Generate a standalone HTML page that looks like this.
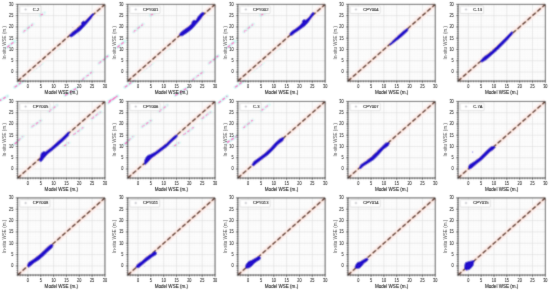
<!DOCTYPE html><html><head><meta charset="utf-8"><style>html,body{margin:0;padding:0;background:#fff;overflow:hidden}svg{display:block}#w{will-change:transform;width:550px;height:290px}text{font-family:"Liberation Sans",sans-serif;stroke:currentColor;stroke-width:0.08px}</style></head><body>
<div id="w"><svg width="550" height="290" viewBox="0 0 550 290">
<defs><filter id="bl" x="0" y="0" width="550" height="290" filterUnits="userSpaceOnUse"><feConvolveMatrix order="3" kernelMatrix="0.0289 0.1122 0.0289 0.1122 0.4356 0.1122 0.0289 0.1122 0.0289" edgeMode="duplicate" preserveAlpha="true"/></filter><filter id="blt" x="0" y="0" width="550" height="290" filterUnits="userSpaceOnUse"><feConvolveMatrix order="3" kernelMatrix="0.0064 0.0672 0.0064 0.0672 0.7056 0.0672 0.0064 0.0672 0.0064" edgeMode="duplicate"/></filter></defs><g filter="url(#bl)">
<rect width="550" height="290" fill="#fff"/>
<path d="M23.3 31.9L33.0 24.1M40.2 15.5L44.6 12.9M7.1 47.4L14.4 41.4M14.6 87.3L24.1 80.3M30.6 71.9L42.6 63.0M50.6 54.0L59.6 47.0M98.7 63.5L108.2 55.8M82.2 79.8L91.9 72.1M65.0 95.4L76.2 88.5M133.5 31.9L143.2 24.1M150.4 15.5L154.8 12.9M117.3 47.4L124.6 41.4M124.8 87.3L134.3 80.3M140.8 71.9L152.8 63.0M160.8 54.0L169.8 47.0M208.8 63.5L218.3 55.8M192.3 79.9L202.8 72.1M175.2 95.4L186.4 88.5M243.8 31.9L253.4 24.1M260.7 15.5L265.1 12.9M227.6 47.4L234.9 41.4M235.1 87.3L244.6 80.3M251.1 71.9L263.1 63.0M271.1 54.0L280.1 47.0M-1.4 101.2L7.6 96.1M49.0 111.5L57.1 105.1M31.6 127.0L41.1 120.4M14.6 144.1L23.0 136.5M63.8 146.0L69.0 142.6M73.2 134.8L83.3 127.4M91.6 118.8L100.7 111.9M108.2 102.9L117.2 96.1M108.8 101.2L117.8 96.1M159.2 111.5L167.3 105.1M141.8 127.0L151.3 120.4M124.8 144.1L133.2 136.5M174.0 146.0L179.2 142.6M183.3 134.8L193.6 127.4M201.8 118.8L210.8 111.9M218.4 102.9L227.3 96.1M261.4 110.7L269.1 104.6M243.3 127.9L252.8 120.1M226.9 142.6L236.4 136.5" stroke="#d6fdf8" stroke-width="3.4" stroke-linecap="round" fill="none"/><path d="M23.3 31.9L33.0 24.1M40.2 15.5L44.6 12.9M7.1 47.4L14.4 41.4M14.6 87.3L24.1 80.3M30.6 71.9L42.6 63.0M50.6 54.0L59.6 47.0M98.7 63.5L108.2 55.8M82.2 79.8L91.9 72.1M65.0 95.4L76.2 88.5M133.5 31.9L143.2 24.1M150.4 15.5L154.8 12.9M117.3 47.4L124.6 41.4M124.8 87.3L134.3 80.3M140.8 71.9L152.8 63.0M160.8 54.0L169.8 47.0M208.8 63.5L218.3 55.8M192.3 79.9L202.8 72.1M175.2 95.4L186.4 88.5M243.8 31.9L253.4 24.1M260.7 15.5L265.1 12.9M227.6 47.4L234.9 41.4M235.1 87.3L244.6 80.3M251.1 71.9L263.1 63.0M271.1 54.0L280.1 47.0M-1.4 101.2L7.6 96.1M49.0 111.5L57.1 105.1M31.6 127.0L41.1 120.4M14.6 144.1L23.0 136.5M63.8 146.0L69.0 142.6M73.2 134.8L83.3 127.4M91.6 118.8L100.7 111.9M108.2 102.9L117.2 96.1M108.8 101.2L117.8 96.1M159.2 111.5L167.3 105.1M141.8 127.0L151.3 120.4M124.8 144.1L133.2 136.5M174.0 146.0L179.2 142.6M183.3 134.8L193.6 127.4M201.8 118.8L210.8 111.9M218.4 102.9L227.3 96.1M261.4 110.7L269.1 104.6M243.3 127.9L252.8 120.1M226.9 142.6L236.4 136.5" stroke="#ff5cc0" stroke-width="1.3" stroke-dasharray="3.2 1.8" fill="none"/>
<path d="M20.22 4.36V81.06M17.65 78.8H104.95M22.79 4.36V81.06M17.65 76.55H104.95M25.35 4.36V81.06M17.65 74.29H104.95M30.49 4.36V81.06M17.65 69.78H104.95M33.06 4.36V81.06M17.65 67.52H104.95M35.62 4.36V81.06M17.65 65.27H104.95M38.19 4.36V81.06M17.65 63.01H104.95M43.33 4.36V81.06M17.65 58.5H104.95M45.89 4.36V81.06M17.65 56.25H104.95M48.46 4.36V81.06M17.65 53.99H104.95M51.03 4.36V81.06M17.65 51.73H104.95M56.16 4.36V81.06M17.65 47.22H104.95M58.73 4.36V81.06M17.65 44.97H104.95M61.3 4.36V81.06M17.65 42.71H104.95M63.87 4.36V81.06M17.65 40.45H104.95M69 4.36V81.06M17.65 35.94H104.95M71.57 4.36V81.06M17.65 33.69H104.95M74.14 4.36V81.06M17.65 31.43H104.95M76.71 4.36V81.06M17.65 29.17H104.95M81.84 4.36V81.06M17.65 24.66H104.95M84.41 4.36V81.06M17.65 22.41H104.95M86.98 4.36V81.06M17.65 20.15H104.95M89.54 4.36V81.06M17.65 17.9H104.95M94.68 4.36V81.06M17.65 13.38H104.95M97.25 4.36V81.06M17.65 11.13H104.95M99.81 4.36V81.06M17.65 8.87H104.95M102.38 4.36V81.06M17.65 6.62H104.95M130.32 4.36V81.06M127.75 78.8H215.05M132.89 4.36V81.06M127.75 76.55H215.05M135.45 4.36V81.06M127.75 74.29H215.05M140.59 4.36V81.06M127.75 69.78H215.05M143.16 4.36V81.06M127.75 67.52H215.05M145.72 4.36V81.06M127.75 65.27H215.05M148.29 4.36V81.06M127.75 63.01H215.05M153.43 4.36V81.06M127.75 58.5H215.05M155.99 4.36V81.06M127.75 56.25H215.05M158.56 4.36V81.06M127.75 53.99H215.05M161.13 4.36V81.06M127.75 51.73H215.05M166.26 4.36V81.06M127.75 47.22H215.05M168.83 4.36V81.06M127.75 44.97H215.05M171.4 4.36V81.06M127.75 42.71H215.05M173.97 4.36V81.06M127.75 40.45H215.05M179.1 4.36V81.06M127.75 35.94H215.05M181.67 4.36V81.06M127.75 33.69H215.05M184.24 4.36V81.06M127.75 31.43H215.05M186.81 4.36V81.06M127.75 29.17H215.05M191.94 4.36V81.06M127.75 24.66H215.05M194.51 4.36V81.06M127.75 22.41H215.05M197.08 4.36V81.06M127.75 20.15H215.05M199.64 4.36V81.06M127.75 17.9H215.05M204.78 4.36V81.06M127.75 13.38H215.05M207.35 4.36V81.06M127.75 11.13H215.05M209.91 4.36V81.06M127.75 8.87H215.05M212.48 4.36V81.06M127.75 6.62H215.05M240.42 4.36V81.06M237.85 78.8H325.15M242.99 4.36V81.06M237.85 76.55H325.15M245.55 4.36V81.06M237.85 74.29H325.15M250.69 4.36V81.06M237.85 69.78H325.15M253.26 4.36V81.06M237.85 67.52H325.15M255.82 4.36V81.06M237.85 65.27H325.15M258.39 4.36V81.06M237.85 63.01H325.15M263.53 4.36V81.06M237.85 58.5H325.15M266.09 4.36V81.06M237.85 56.25H325.15M268.66 4.36V81.06M237.85 53.99H325.15M271.23 4.36V81.06M237.85 51.73H325.15M276.36 4.36V81.06M237.85 47.22H325.15M278.93 4.36V81.06M237.85 44.97H325.15M281.5 4.36V81.06M237.85 42.71H325.15M284.07 4.36V81.06M237.85 40.45H325.15M289.2 4.36V81.06M237.85 35.94H325.15M291.77 4.36V81.06M237.85 33.69H325.15M294.34 4.36V81.06M237.85 31.43H325.15M296.91 4.36V81.06M237.85 29.17H325.15M302.04 4.36V81.06M237.85 24.66H325.15M304.61 4.36V81.06M237.85 22.41H325.15M307.18 4.36V81.06M237.85 20.15H325.15M309.74 4.36V81.06M237.85 17.9H325.15M314.88 4.36V81.06M237.85 13.38H325.15M317.45 4.36V81.06M237.85 11.13H325.15M320.01 4.36V81.06M237.85 8.87H325.15M322.58 4.36V81.06M237.85 6.62H325.15M350.52 4.36V81.06M347.95 78.8H435.25M353.09 4.36V81.06M347.95 76.55H435.25M355.65 4.36V81.06M347.95 74.29H435.25M360.79 4.36V81.06M347.95 69.78H435.25M363.36 4.36V81.06M347.95 67.52H435.25M365.92 4.36V81.06M347.95 65.27H435.25M368.49 4.36V81.06M347.95 63.01H435.25M373.63 4.36V81.06M347.95 58.5H435.25M376.19 4.36V81.06M347.95 56.25H435.25M378.76 4.36V81.06M347.95 53.99H435.25M381.33 4.36V81.06M347.95 51.73H435.25M386.46 4.36V81.06M347.95 47.22H435.25M389.03 4.36V81.06M347.95 44.97H435.25M391.6 4.36V81.06M347.95 42.71H435.25M394.17 4.36V81.06M347.95 40.45H435.25M399.3 4.36V81.06M347.95 35.94H435.25M401.87 4.36V81.06M347.95 33.69H435.25M404.44 4.36V81.06M347.95 31.43H435.25M407.01 4.36V81.06M347.95 29.17H435.25M412.14 4.36V81.06M347.95 24.66H435.25M414.71 4.36V81.06M347.95 22.41H435.25M417.28 4.36V81.06M347.95 20.15H435.25M419.84 4.36V81.06M347.95 17.9H435.25M424.98 4.36V81.06M347.95 13.38H435.25M427.55 4.36V81.06M347.95 11.13H435.25M430.11 4.36V81.06M347.95 8.87H435.25M432.68 4.36V81.06M347.95 6.62H435.25M460.62 4.36V81.06M458.05 78.8H545.35M463.19 4.36V81.06M458.05 76.55H545.35M465.75 4.36V81.06M458.05 74.29H545.35M470.89 4.36V81.06M458.05 69.78H545.35M473.46 4.36V81.06M458.05 67.52H545.35M476.02 4.36V81.06M458.05 65.27H545.35M478.59 4.36V81.06M458.05 63.01H545.35M483.73 4.36V81.06M458.05 58.5H545.35M486.29 4.36V81.06M458.05 56.25H545.35M488.86 4.36V81.06M458.05 53.99H545.35M491.43 4.36V81.06M458.05 51.73H545.35M496.56 4.36V81.06M458.05 47.22H545.35M499.13 4.36V81.06M458.05 44.97H545.35M501.7 4.36V81.06M458.05 42.71H545.35M504.27 4.36V81.06M458.05 40.45H545.35M509.4 4.36V81.06M458.05 35.94H545.35M511.97 4.36V81.06M458.05 33.69H545.35M514.54 4.36V81.06M458.05 31.43H545.35M517.11 4.36V81.06M458.05 29.17H545.35M522.24 4.36V81.06M458.05 24.66H545.35M524.81 4.36V81.06M458.05 22.41H545.35M527.38 4.36V81.06M458.05 20.15H545.35M529.94 4.36V81.06M458.05 17.9H545.35M535.08 4.36V81.06M458.05 13.38H545.35M537.65 4.36V81.06M458.05 11.13H545.35M540.21 4.36V81.06M458.05 8.87H545.35M542.78 4.36V81.06M458.05 6.62H545.35M20.22 101.45V178M17.65 175.75H104.95M22.79 101.45V178M17.65 173.5H104.95M25.35 101.45V178M17.65 171.25H104.95M30.49 101.45V178M17.65 166.74H104.95M33.06 101.45V178M17.65 164.49H104.95M35.62 101.45V178M17.65 162.24H104.95M38.19 101.45V178M17.65 159.99H104.95M43.33 101.45V178M17.65 155.49H104.95M45.89 101.45V178M17.65 153.23H104.95M48.46 101.45V178M17.65 150.98H104.95M51.03 101.45V178M17.65 148.73H104.95M56.16 101.45V178M17.65 144.23H104.95M58.73 101.45V178M17.65 141.98H104.95M61.3 101.45V178M17.65 139.72H104.95M63.87 101.45V178M17.65 137.47H104.95M69 101.45V178M17.65 132.97H104.95M71.57 101.45V178M17.65 130.72H104.95M74.14 101.45V178M17.65 128.47H104.95M76.71 101.45V178M17.65 126.22H104.95M81.84 101.45V178M17.65 121.71H104.95M84.41 101.45V178M17.65 119.46H104.95M86.98 101.45V178M17.65 117.21H104.95M89.54 101.45V178M17.65 114.96H104.95M94.68 101.45V178M17.65 110.46H104.95M97.25 101.45V178M17.65 108.2H104.95M99.81 101.45V178M17.65 105.95H104.95M102.38 101.45V178M17.65 103.7H104.95M130.32 101.45V178M127.75 175.75H215.05M132.89 101.45V178M127.75 173.5H215.05M135.45 101.45V178M127.75 171.25H215.05M140.59 101.45V178M127.75 166.74H215.05M143.16 101.45V178M127.75 164.49H215.05M145.72 101.45V178M127.75 162.24H215.05M148.29 101.45V178M127.75 159.99H215.05M153.43 101.45V178M127.75 155.49H215.05M155.99 101.45V178M127.75 153.23H215.05M158.56 101.45V178M127.75 150.98H215.05M161.13 101.45V178M127.75 148.73H215.05M166.26 101.45V178M127.75 144.23H215.05M168.83 101.45V178M127.75 141.98H215.05M171.4 101.45V178M127.75 139.72H215.05M173.97 101.45V178M127.75 137.47H215.05M179.1 101.45V178M127.75 132.97H215.05M181.67 101.45V178M127.75 130.72H215.05M184.24 101.45V178M127.75 128.47H215.05M186.81 101.45V178M127.75 126.22H215.05M191.94 101.45V178M127.75 121.71H215.05M194.51 101.45V178M127.75 119.46H215.05M197.08 101.45V178M127.75 117.21H215.05M199.64 101.45V178M127.75 114.96H215.05M204.78 101.45V178M127.75 110.46H215.05M207.35 101.45V178M127.75 108.2H215.05M209.91 101.45V178M127.75 105.95H215.05M212.48 101.45V178M127.75 103.7H215.05M240.42 101.45V178M237.85 175.75H325.15M242.99 101.45V178M237.85 173.5H325.15M245.55 101.45V178M237.85 171.25H325.15M250.69 101.45V178M237.85 166.74H325.15M253.26 101.45V178M237.85 164.49H325.15M255.82 101.45V178M237.85 162.24H325.15M258.39 101.45V178M237.85 159.99H325.15M263.53 101.45V178M237.85 155.49H325.15M266.09 101.45V178M237.85 153.23H325.15M268.66 101.45V178M237.85 150.98H325.15M271.23 101.45V178M237.85 148.73H325.15M276.36 101.45V178M237.85 144.23H325.15M278.93 101.45V178M237.85 141.98H325.15M281.5 101.45V178M237.85 139.72H325.15M284.07 101.45V178M237.85 137.47H325.15M289.2 101.45V178M237.85 132.97H325.15M291.77 101.45V178M237.85 130.72H325.15M294.34 101.45V178M237.85 128.47H325.15M296.91 101.45V178M237.85 126.22H325.15M302.04 101.45V178M237.85 121.71H325.15M304.61 101.45V178M237.85 119.46H325.15M307.18 101.45V178M237.85 117.21H325.15M309.74 101.45V178M237.85 114.96H325.15M314.88 101.45V178M237.85 110.46H325.15M317.45 101.45V178M237.85 108.2H325.15M320.01 101.45V178M237.85 105.95H325.15M322.58 101.45V178M237.85 103.7H325.15M350.52 101.45V178M347.95 175.75H435.25M353.09 101.45V178M347.95 173.5H435.25M355.65 101.45V178M347.95 171.25H435.25M360.79 101.45V178M347.95 166.74H435.25M363.36 101.45V178M347.95 164.49H435.25M365.92 101.45V178M347.95 162.24H435.25M368.49 101.45V178M347.95 159.99H435.25M373.63 101.45V178M347.95 155.49H435.25M376.19 101.45V178M347.95 153.23H435.25M378.76 101.45V178M347.95 150.98H435.25M381.33 101.45V178M347.95 148.73H435.25M386.46 101.45V178M347.95 144.23H435.25M389.03 101.45V178M347.95 141.98H435.25M391.6 101.45V178M347.95 139.72H435.25M394.17 101.45V178M347.95 137.47H435.25M399.3 101.45V178M347.95 132.97H435.25M401.87 101.45V178M347.95 130.72H435.25M404.44 101.45V178M347.95 128.47H435.25M407.01 101.45V178M347.95 126.22H435.25M412.14 101.45V178M347.95 121.71H435.25M414.71 101.45V178M347.95 119.46H435.25M417.28 101.45V178M347.95 117.21H435.25M419.84 101.45V178M347.95 114.96H435.25M424.98 101.45V178M347.95 110.46H435.25M427.55 101.45V178M347.95 108.2H435.25M430.11 101.45V178M347.95 105.95H435.25M432.68 101.45V178M347.95 103.7H435.25M460.62 101.45V178M458.05 175.75H545.35M463.19 101.45V178M458.05 173.5H545.35M465.75 101.45V178M458.05 171.25H545.35M470.89 101.45V178M458.05 166.74H545.35M473.46 101.45V178M458.05 164.49H545.35M476.02 101.45V178M458.05 162.24H545.35M478.59 101.45V178M458.05 159.99H545.35M483.73 101.45V178M458.05 155.49H545.35M486.29 101.45V178M458.05 153.23H545.35M488.86 101.45V178M458.05 150.98H545.35M491.43 101.45V178M458.05 148.73H545.35M496.56 101.45V178M458.05 144.23H545.35M499.13 101.45V178M458.05 141.98H545.35M501.7 101.45V178M458.05 139.72H545.35M504.27 101.45V178M458.05 137.47H545.35M509.4 101.45V178M458.05 132.97H545.35M511.97 101.45V178M458.05 130.72H545.35M514.54 101.45V178M458.05 128.47H545.35M517.11 101.45V178M458.05 126.22H545.35M522.24 101.45V178M458.05 121.71H545.35M524.81 101.45V178M458.05 119.46H545.35M527.38 101.45V178M458.05 117.21H545.35M529.94 101.45V178M458.05 114.96H545.35M535.08 101.45V178M458.05 110.46H545.35M537.65 101.45V178M458.05 108.2H545.35M540.21 101.45V178M458.05 105.95H545.35M542.78 101.45V178M458.05 103.7H545.35M20.22 197.9V275M17.65 272.73H104.95M22.79 197.9V275M17.65 270.46H104.95M25.35 197.9V275M17.65 268.2H104.95M30.49 197.9V275M17.65 263.66H104.95M33.06 197.9V275M17.65 261.39H104.95M35.62 197.9V275M17.65 259.13H104.95M38.19 197.9V275M17.65 256.86H104.95M43.33 197.9V275M17.65 252.32H104.95M45.89 197.9V275M17.65 250.06H104.95M48.46 197.9V275M17.65 247.79H104.95M51.03 197.9V275M17.65 245.52H104.95M56.16 197.9V275M17.65 240.99H104.95M58.73 197.9V275M17.65 238.72H104.95M61.3 197.9V275M17.65 236.45H104.95M63.87 197.9V275M17.65 234.18H104.95M69 197.9V275M17.65 229.65H104.95M71.57 197.9V275M17.65 227.38H104.95M74.14 197.9V275M17.65 225.11H104.95M76.71 197.9V275M17.65 222.84H104.95M81.84 197.9V275M17.65 218.31H104.95M84.41 197.9V275M17.65 216.04H104.95M86.98 197.9V275M17.65 213.77H104.95M89.54 197.9V275M17.65 211.51H104.95M94.68 197.9V275M17.65 206.97H104.95M97.25 197.9V275M17.65 204.7H104.95M99.81 197.9V275M17.65 202.44H104.95M102.38 197.9V275M17.65 200.17H104.95M130.32 197.9V275M127.75 272.73H215.05M132.89 197.9V275M127.75 270.46H215.05M135.45 197.9V275M127.75 268.2H215.05M140.59 197.9V275M127.75 263.66H215.05M143.16 197.9V275M127.75 261.39H215.05M145.72 197.9V275M127.75 259.13H215.05M148.29 197.9V275M127.75 256.86H215.05M153.43 197.9V275M127.75 252.32H215.05M155.99 197.9V275M127.75 250.06H215.05M158.56 197.9V275M127.75 247.79H215.05M161.13 197.9V275M127.75 245.52H215.05M166.26 197.9V275M127.75 240.99H215.05M168.83 197.9V275M127.75 238.72H215.05M171.4 197.9V275M127.75 236.45H215.05M173.97 197.9V275M127.75 234.18H215.05M179.1 197.9V275M127.75 229.65H215.05M181.67 197.9V275M127.75 227.38H215.05M184.24 197.9V275M127.75 225.11H215.05M186.81 197.9V275M127.75 222.84H215.05M191.94 197.9V275M127.75 218.31H215.05M194.51 197.9V275M127.75 216.04H215.05M197.08 197.9V275M127.75 213.77H215.05M199.64 197.9V275M127.75 211.51H215.05M204.78 197.9V275M127.75 206.97H215.05M207.35 197.9V275M127.75 204.7H215.05M209.91 197.9V275M127.75 202.44H215.05M212.48 197.9V275M127.75 200.17H215.05M240.42 197.9V275M237.85 272.73H325.15M242.99 197.9V275M237.85 270.46H325.15M245.55 197.9V275M237.85 268.2H325.15M250.69 197.9V275M237.85 263.66H325.15M253.26 197.9V275M237.85 261.39H325.15M255.82 197.9V275M237.85 259.13H325.15M258.39 197.9V275M237.85 256.86H325.15M263.53 197.9V275M237.85 252.32H325.15M266.09 197.9V275M237.85 250.06H325.15M268.66 197.9V275M237.85 247.79H325.15M271.23 197.9V275M237.85 245.52H325.15M276.36 197.9V275M237.85 240.99H325.15M278.93 197.9V275M237.85 238.72H325.15M281.5 197.9V275M237.85 236.45H325.15M284.07 197.9V275M237.85 234.18H325.15M289.2 197.9V275M237.85 229.65H325.15M291.77 197.9V275M237.85 227.38H325.15M294.34 197.9V275M237.85 225.11H325.15M296.91 197.9V275M237.85 222.84H325.15M302.04 197.9V275M237.85 218.31H325.15M304.61 197.9V275M237.85 216.04H325.15M307.18 197.9V275M237.85 213.77H325.15M309.74 197.9V275M237.85 211.51H325.15M314.88 197.9V275M237.85 206.97H325.15M317.45 197.9V275M237.85 204.7H325.15M320.01 197.9V275M237.85 202.44H325.15M322.58 197.9V275M237.85 200.17H325.15M350.52 197.9V275M347.95 272.73H435.25M353.09 197.9V275M347.95 270.46H435.25M355.65 197.9V275M347.95 268.2H435.25M360.79 197.9V275M347.95 263.66H435.25M363.36 197.9V275M347.95 261.39H435.25M365.92 197.9V275M347.95 259.13H435.25M368.49 197.9V275M347.95 256.86H435.25M373.63 197.9V275M347.95 252.32H435.25M376.19 197.9V275M347.95 250.06H435.25M378.76 197.9V275M347.95 247.79H435.25M381.33 197.9V275M347.95 245.52H435.25M386.46 197.9V275M347.95 240.99H435.25M389.03 197.9V275M347.95 238.72H435.25M391.6 197.9V275M347.95 236.45H435.25M394.17 197.9V275M347.95 234.18H435.25M399.3 197.9V275M347.95 229.65H435.25M401.87 197.9V275M347.95 227.38H435.25M404.44 197.9V275M347.95 225.11H435.25M407.01 197.9V275M347.95 222.84H435.25M412.14 197.9V275M347.95 218.31H435.25M414.71 197.9V275M347.95 216.04H435.25M417.28 197.9V275M347.95 213.77H435.25M419.84 197.9V275M347.95 211.51H435.25M424.98 197.9V275M347.95 206.97H435.25M427.55 197.9V275M347.95 204.7H435.25M430.11 197.9V275M347.95 202.44H435.25M432.68 197.9V275M347.95 200.17H435.25M460.62 197.9V275M458.05 272.73H545.35M463.19 197.9V275M458.05 270.46H545.35M465.75 197.9V275M458.05 268.2H545.35M470.89 197.9V275M458.05 263.66H545.35M473.46 197.9V275M458.05 261.39H545.35M476.02 197.9V275M458.05 259.13H545.35M478.59 197.9V275M458.05 256.86H545.35M483.73 197.9V275M458.05 252.32H545.35M486.29 197.9V275M458.05 250.06H545.35M488.86 197.9V275M458.05 247.79H545.35M491.43 197.9V275M458.05 245.52H545.35M496.56 197.9V275M458.05 240.99H545.35M499.13 197.9V275M458.05 238.72H545.35M501.7 197.9V275M458.05 236.45H545.35M504.27 197.9V275M458.05 234.18H545.35M509.4 197.9V275M458.05 229.65H545.35M511.97 197.9V275M458.05 227.38H545.35M514.54 197.9V275M458.05 225.11H545.35M517.11 197.9V275M458.05 222.84H545.35M522.24 197.9V275M458.05 218.31H545.35M524.81 197.9V275M458.05 216.04H545.35M527.38 197.9V275M458.05 213.77H545.35M529.94 197.9V275M458.05 211.51H545.35M535.08 197.9V275M458.05 206.97H545.35M537.65 197.9V275M458.05 204.7H545.35M540.21 197.9V275M458.05 202.44H545.35M542.78 197.9V275M458.05 200.17H545.35" stroke="#f5f5f5" stroke-width="0.5" fill="none"/>
<path d="M27.92 4.36V81.06M17.65 72.04H104.95M40.76 4.36V81.06M17.65 60.76H104.95M53.6 4.36V81.06M17.65 49.48H104.95M66.44 4.36V81.06M17.65 38.2H104.95M79.27 4.36V81.06M17.65 26.92H104.95M92.11 4.36V81.06M17.65 15.64H104.95M138.02 4.36V81.06M127.75 72.04H215.05M150.86 4.36V81.06M127.75 60.76H215.05M163.7 4.36V81.06M127.75 49.48H215.05M176.54 4.36V81.06M127.75 38.2H215.05M189.37 4.36V81.06M127.75 26.92H215.05M202.21 4.36V81.06M127.75 15.64H215.05M248.12 4.36V81.06M237.85 72.04H325.15M260.96 4.36V81.06M237.85 60.76H325.15M273.8 4.36V81.06M237.85 49.48H325.15M286.64 4.36V81.06M237.85 38.2H325.15M299.47 4.36V81.06M237.85 26.92H325.15M312.31 4.36V81.06M237.85 15.64H325.15M358.22 4.36V81.06M347.95 72.04H435.25M371.06 4.36V81.06M347.95 60.76H435.25M383.9 4.36V81.06M347.95 49.48H435.25M396.74 4.36V81.06M347.95 38.2H435.25M409.57 4.36V81.06M347.95 26.92H435.25M422.41 4.36V81.06M347.95 15.64H435.25M468.32 4.36V81.06M458.05 72.04H545.35M481.16 4.36V81.06M458.05 60.76H545.35M494 4.36V81.06M458.05 49.48H545.35M506.84 4.36V81.06M458.05 38.2H545.35M519.67 4.36V81.06M458.05 26.92H545.35M532.51 4.36V81.06M458.05 15.64H545.35M27.92 101.45V178M17.65 168.99H104.95M40.76 101.45V178M17.65 157.74H104.95M53.6 101.45V178M17.65 146.48H104.95M66.44 101.45V178M17.65 135.22H104.95M79.27 101.45V178M17.65 123.96H104.95M92.11 101.45V178M17.65 112.71H104.95M138.02 101.45V178M127.75 168.99H215.05M150.86 101.45V178M127.75 157.74H215.05M163.7 101.45V178M127.75 146.48H215.05M176.54 101.45V178M127.75 135.22H215.05M189.37 101.45V178M127.75 123.96H215.05M202.21 101.45V178M127.75 112.71H215.05M248.12 101.45V178M237.85 168.99H325.15M260.96 101.45V178M237.85 157.74H325.15M273.8 101.45V178M237.85 146.48H325.15M286.64 101.45V178M237.85 135.22H325.15M299.47 101.45V178M237.85 123.96H325.15M312.31 101.45V178M237.85 112.71H325.15M358.22 101.45V178M347.95 168.99H435.25M371.06 101.45V178M347.95 157.74H435.25M383.9 101.45V178M347.95 146.48H435.25M396.74 101.45V178M347.95 135.22H435.25M409.57 101.45V178M347.95 123.96H435.25M422.41 101.45V178M347.95 112.71H435.25M468.32 101.45V178M458.05 168.99H545.35M481.16 101.45V178M458.05 157.74H545.35M494 101.45V178M458.05 146.48H545.35M506.84 101.45V178M458.05 135.22H545.35M519.67 101.45V178M458.05 123.96H545.35M532.51 101.45V178M458.05 112.71H545.35M27.92 197.9V275M17.65 265.93H104.95M40.76 197.9V275M17.65 254.59H104.95M53.6 197.9V275M17.65 243.25H104.95M66.44 197.9V275M17.65 231.91H104.95M79.27 197.9V275M17.65 220.58H104.95M92.11 197.9V275M17.65 209.24H104.95M138.02 197.9V275M127.75 265.93H215.05M150.86 197.9V275M127.75 254.59H215.05M163.7 197.9V275M127.75 243.25H215.05M176.54 197.9V275M127.75 231.91H215.05M189.37 197.9V275M127.75 220.58H215.05M202.21 197.9V275M127.75 209.24H215.05M248.12 197.9V275M237.85 265.93H325.15M260.96 197.9V275M237.85 254.59H325.15M273.8 197.9V275M237.85 243.25H325.15M286.64 197.9V275M237.85 231.91H325.15M299.47 197.9V275M237.85 220.58H325.15M312.31 197.9V275M237.85 209.24H325.15M358.22 197.9V275M347.95 265.93H435.25M371.06 197.9V275M347.95 254.59H435.25M383.9 197.9V275M347.95 243.25H435.25M396.74 197.9V275M347.95 231.91H435.25M409.57 197.9V275M347.95 220.58H435.25M422.41 197.9V275M347.95 209.24H435.25M468.32 197.9V275M458.05 265.93H545.35M481.16 197.9V275M458.05 254.59H545.35M494 197.9V275M458.05 243.25H545.35M506.84 197.9V275M458.05 231.91H545.35M519.67 197.9V275M458.05 220.58H545.35M532.51 197.9V275M458.05 209.24H545.35" stroke="#d9d9d9" stroke-width="0.6" fill="none"/>
<path d="M17.65 81.06L104.95 4.36M127.75 81.06L215.05 4.36M237.85 81.06L325.15 4.36M347.95 81.06L435.25 4.36M458.05 81.06L545.35 4.36M17.65 178L104.95 101.45M127.75 178L215.05 101.45M237.85 178L325.15 101.45M347.95 178L435.25 101.45M458.05 178L545.35 101.45M17.65 275L104.95 197.9M127.75 275L215.05 197.9M237.85 275L325.15 197.9M347.95 275L435.25 197.9M458.05 275L545.35 197.9" stroke="#fdf0ee" stroke-width="6" fill="none"/>
<path d="M17.65 81.06L104.95 4.36M127.75 81.06L215.05 4.36M237.85 81.06L325.15 4.36M347.95 81.06L435.25 4.36M458.05 81.06L545.35 4.36M17.65 178L104.95 101.45M127.75 178L215.05 101.45M237.85 178L325.15 101.45M347.95 178L435.25 101.45M458.05 178L545.35 101.45M17.65 275L104.95 197.9M127.75 275L215.05 197.9M237.85 275L325.15 197.9M347.95 275L435.25 197.9M458.05 275L545.35 197.9" stroke="#eed2c4" stroke-width="1.4" fill="none"/>
<path d="M17.65 81.06L104.95 4.36M127.75 81.06L215.05 4.36M237.85 81.06L325.15 4.36M347.95 81.06L435.25 4.36M458.05 81.06L545.35 4.36M17.65 178L104.95 101.45M127.75 178L215.05 101.45M237.85 178L325.15 101.45M347.95 178L435.25 101.45M458.05 178L545.35 101.45M17.65 275L104.95 197.9M127.75 275L215.05 197.9M237.85 275L325.15 197.9M347.95 275L435.25 197.9M458.05 275L545.35 197.9" stroke="#643828" stroke-width="1.6" stroke-dasharray="4.4 2.2" fill="none"/>
<polygon points="69.60,35.30 71.30,33.00 75.70,29.80 79.50,26.80 81.30,24.50 81.60,22.30 83.20,21.00 84.80,21.40 87.70,18.70 90.60,15.30 92.10,13.80 93.30,13.60 93.60,14.80 90.80,19.00 87.90,22.40 85.40,25.30 83.00,27.90 80.50,30.60 76.80,33.20 73.80,35.60 71.60,36.90 70.20,36.80" fill="#2410cc" stroke="#2410cc" stroke-width="0.7" stroke-linejoin="round"/><circle cx="72.80" cy="27.40" r="0.45" fill="#2410cc" opacity="0.5"/><circle cx="78.10" cy="34.10" r="0.45" fill="#2410cc" opacity="0.5"/><polygon points="179.30,34.40 180.50,32.40 183.10,30.40 188.60,26.50 191.60,23.80 192.20,21.30 193.90,20.10 195.80,20.50 198.00,16.60 201.20,13.00 202.90,12.20 204.10,12.80 203.40,15.20 199.80,20.20 196.00,24.60 192.70,28.50 187.70,32.40 182.70,35.70 180.40,36.00" fill="#2410cc" stroke="#2410cc" stroke-width="0.7" stroke-linejoin="round"/><polygon points="289.80,33.60 291.30,31.60 295.70,28.70 300.00,25.30 302.20,22.50 302.40,20.60 303.90,19.60 305.80,20.00 308.70,17.60 311.10,14.30 312.50,12.40 314.10,12.70 313.60,15.30 310.70,18.80 307.80,23.00 304.90,26.00 302.00,28.10 298.60,30.50 294.80,33.00 291.80,35.40 290.20,35.40" fill="#2410cc" stroke="#2410cc" stroke-width="0.7" stroke-linejoin="round"/><polygon points="389.30,44.50 392.10,41.50 396.60,37.00 399.70,34.20 403.30,31.10 406.40,28.80 407.90,28.40 408.00,30.70 405.10,33.50 401.50,36.80 397.50,39.90 393.40,43.00 390.60,45.20" fill="#2410cc" stroke="#2410cc" stroke-width="0.7" stroke-linejoin="round"/><polygon points="480.50,60.50 483.90,56.70 489.10,53.40 494.30,48.80 499.60,43.60 504.80,38.40 509.40,33.80 511.30,31.80 512.80,32.10 512.20,34.50 507.50,39.90 502.30,45.20 497.00,50.50 491.80,55.00 486.60,59.60 482.50,62.00 480.90,62.00" fill="#2410cc" stroke="#2410cc" stroke-width="0.7" stroke-linejoin="round"/><polygon points="39.50,161.00 40.20,157.70 40.90,154.30 41.60,152.80 43.70,151.40 45.20,152.00 50.60,148.00 56.10,143.10 61.60,138.30 66.40,133.50 67.80,132.10 69.30,132.00 68.60,135.70 63.80,140.60 58.20,145.40 53.40,149.60 47.90,153.80 43.80,158.50 41.70,161.30 40.20,161.60" fill="#2410cc" stroke="#2410cc" stroke-width="0.7" stroke-linejoin="round"/><polygon points="144.10,163.80 144.80,159.70 146.20,156.90 147.60,155.40 150.30,154.50 155.20,152.00 160.70,147.80 166.20,143.70 171.70,138.20 175.20,135.40 176.60,134.70 177.60,135.40 176.70,137.70 171.80,141.80 167.00,146.70 161.50,150.80 156.00,154.90 151.10,158.40 147.70,162.50 145.50,164.60" fill="#2410cc" stroke="#2410cc" stroke-width="0.7" stroke-linejoin="round"/><polygon points="251.80,165.00 253.60,161.60 258.40,158.10 264.00,154.00 270.20,148.50 275.00,142.90 279.80,138.80 282.60,137.40 284.10,138.20 282.70,141.10 277.90,144.50 273.70,149.40 268.90,154.20 263.40,158.30 257.80,162.50 253.70,165.90" fill="#2410cc" stroke="#2410cc" stroke-width="0.7" stroke-linejoin="round"/><polygon points="359.20,168.00 360.60,164.70 366.50,160.80 372.30,156.20 376.90,151.60 381.50,147.00 385.50,143.10 388.10,142.50 389.50,143.20 388.20,145.90 383.60,149.20 379.00,154.40 373.80,159.70 368.50,163.00 363.30,166.20 360.60,168.90" fill="#2410cc" stroke="#2410cc" stroke-width="0.7" stroke-linejoin="round"/><polygon points="468.20,167.10 469.50,164.60 474.40,161.50 479.40,157.80 483.70,153.40 487.50,149.70 491.20,146.60 493.70,146.30 495.40,147.30 493.80,149.30 490.10,151.80 486.30,155.50 482.00,159.80 477.00,163.60 472.00,167.90 469.50,169.20" fill="#2410cc" stroke="#2410cc" stroke-width="0.7" stroke-linejoin="round"/><circle cx="472.60" cy="152.00" r="0.6" fill="#2410cc" opacity="0.7"/><polygon points="27.30,265.40 28.40,262.50 33.10,259.60 38.40,255.50 43.10,251.40 47.20,247.30 50.10,244.90 51.90,244.30 53.20,245.60 52.00,248.10 47.90,251.60 43.80,255.70 39.10,259.80 34.40,262.70 30.30,266.20 28.40,267.40" fill="#2410cc" stroke="#2410cc" stroke-width="0.7" stroke-linejoin="round"/><polygon points="135.90,266.60 137.30,264.20 141.70,261.30 146.00,257.40 150.30,254.50 153.70,252.10 155.20,251.40 156.60,252.60 156.20,254.70 152.90,256.60 149.00,259.50 145.10,262.40 141.30,265.80 138.80,267.70 136.80,267.70" fill="#2410cc" stroke="#2410cc" stroke-width="0.7" stroke-linejoin="round"/><circle cx="144.50" cy="266.60" r="0.45" fill="#2410cc" opacity="0.4"/><polygon points="245.40,266.40 246.20,264.00 248.30,261.50 251.60,260.30 255.30,258.20 258.20,256.50 259.90,256.50 260.80,257.90 260.00,259.60 257.10,261.30 254.20,263.40 251.70,266.30 249.10,267.90 246.60,268.30 245.50,267.50" fill="#2410cc" stroke="#2410cc" stroke-width="0.7" stroke-linejoin="round"/><polygon points="354.90,267.00 355.70,264.80 357.20,262.50 359.90,261.80 362.50,260.20 365.20,258.70 367.10,258.00 368.30,259.20 367.20,261.20 364.10,263.10 362.20,265.70 360.00,268.00 357.20,268.60 355.30,268.00" fill="#2410cc" stroke="#2410cc" stroke-width="0.7" stroke-linejoin="round"/><polygon points="465.50,262.50 470.00,261.20 474.30,260.50 473.00,266.00 470.00,269.30 466.00,270.30 464.50,268.00 464.80,264.50" fill="#2410cc" stroke="#2410cc" stroke-width="0.7" stroke-linejoin="round"/>
<path d="M17.65 4.36H104.95V81.06H17.65ZM127.75 4.36H215.05V81.06H127.75ZM237.85 4.36H325.15V81.06H237.85ZM347.95 4.36H435.25V81.06H347.95ZM458.05 4.36H545.35V81.06H458.05ZM17.65 101.45H104.95V178H17.65ZM127.75 101.45H215.05V178H127.75ZM237.85 101.45H325.15V178H237.85ZM347.95 101.45H435.25V178H347.95ZM458.05 101.45H545.35V178H458.05ZM17.65 197.9H104.95V275H17.65ZM127.75 197.9H215.05V275H127.75ZM237.85 197.9H325.15V275H237.85ZM347.95 197.9H435.25V275H347.95ZM458.05 197.9H545.35V275H458.05Z" stroke="#3a3a3a" stroke-width="0.9" fill="none"/>
<path d="M17.65 80.61v1.7M18.1 81.06h-1.7M20.22 80.61v1.7M18.1 78.8h-1.7M22.79 80.61v1.7M18.1 76.55h-1.7M25.35 80.61v1.7M18.1 74.29h-1.7M30.49 80.61v1.7M18.1 69.78h-1.7M33.06 80.61v1.7M18.1 67.52h-1.7M35.62 80.61v1.7M18.1 65.27h-1.7M38.19 80.61v1.7M18.1 63.01h-1.7M43.33 80.61v1.7M18.1 58.5h-1.7M45.89 80.61v1.7M18.1 56.25h-1.7M48.46 80.61v1.7M18.1 53.99h-1.7M51.03 80.61v1.7M18.1 51.73h-1.7M56.16 80.61v1.7M18.1 47.22h-1.7M58.73 80.61v1.7M18.1 44.97h-1.7M61.3 80.61v1.7M18.1 42.71h-1.7M63.87 80.61v1.7M18.1 40.45h-1.7M69 80.61v1.7M18.1 35.94h-1.7M71.57 80.61v1.7M18.1 33.69h-1.7M74.14 80.61v1.7M18.1 31.43h-1.7M76.71 80.61v1.7M18.1 29.17h-1.7M81.84 80.61v1.7M18.1 24.66h-1.7M84.41 80.61v1.7M18.1 22.41h-1.7M86.98 80.61v1.7M18.1 20.15h-1.7M89.54 80.61v1.7M18.1 17.9h-1.7M94.68 80.61v1.7M18.1 13.38h-1.7M97.25 80.61v1.7M18.1 11.13h-1.7M99.81 80.61v1.7M18.1 8.87h-1.7M102.38 80.61v1.7M18.1 6.62h-1.7M127.75 80.61v1.7M128.2 81.06h-1.7M130.32 80.61v1.7M128.2 78.8h-1.7M132.89 80.61v1.7M128.2 76.55h-1.7M135.45 80.61v1.7M128.2 74.29h-1.7M140.59 80.61v1.7M128.2 69.78h-1.7M143.16 80.61v1.7M128.2 67.52h-1.7M145.72 80.61v1.7M128.2 65.27h-1.7M148.29 80.61v1.7M128.2 63.01h-1.7M153.43 80.61v1.7M128.2 58.5h-1.7M155.99 80.61v1.7M128.2 56.25h-1.7M158.56 80.61v1.7M128.2 53.99h-1.7M161.13 80.61v1.7M128.2 51.73h-1.7M166.26 80.61v1.7M128.2 47.22h-1.7M168.83 80.61v1.7M128.2 44.97h-1.7M171.4 80.61v1.7M128.2 42.71h-1.7M173.97 80.61v1.7M128.2 40.45h-1.7M179.1 80.61v1.7M128.2 35.94h-1.7M181.67 80.61v1.7M128.2 33.69h-1.7M184.24 80.61v1.7M128.2 31.43h-1.7M186.81 80.61v1.7M128.2 29.17h-1.7M191.94 80.61v1.7M128.2 24.66h-1.7M194.51 80.61v1.7M128.2 22.41h-1.7M197.08 80.61v1.7M128.2 20.15h-1.7M199.64 80.61v1.7M128.2 17.9h-1.7M204.78 80.61v1.7M128.2 13.38h-1.7M207.35 80.61v1.7M128.2 11.13h-1.7M209.91 80.61v1.7M128.2 8.87h-1.7M212.48 80.61v1.7M128.2 6.62h-1.7M237.85 80.61v1.7M238.3 81.06h-1.7M240.42 80.61v1.7M238.3 78.8h-1.7M242.99 80.61v1.7M238.3 76.55h-1.7M245.55 80.61v1.7M238.3 74.29h-1.7M250.69 80.61v1.7M238.3 69.78h-1.7M253.26 80.61v1.7M238.3 67.52h-1.7M255.82 80.61v1.7M238.3 65.27h-1.7M258.39 80.61v1.7M238.3 63.01h-1.7M263.53 80.61v1.7M238.3 58.5h-1.7M266.09 80.61v1.7M238.3 56.25h-1.7M268.66 80.61v1.7M238.3 53.99h-1.7M271.23 80.61v1.7M238.3 51.73h-1.7M276.36 80.61v1.7M238.3 47.22h-1.7M278.93 80.61v1.7M238.3 44.97h-1.7M281.5 80.61v1.7M238.3 42.71h-1.7M284.07 80.61v1.7M238.3 40.45h-1.7M289.2 80.61v1.7M238.3 35.94h-1.7M291.77 80.61v1.7M238.3 33.69h-1.7M294.34 80.61v1.7M238.3 31.43h-1.7M296.91 80.61v1.7M238.3 29.17h-1.7M302.04 80.61v1.7M238.3 24.66h-1.7M304.61 80.61v1.7M238.3 22.41h-1.7M307.18 80.61v1.7M238.3 20.15h-1.7M309.74 80.61v1.7M238.3 17.9h-1.7M314.88 80.61v1.7M238.3 13.38h-1.7M317.45 80.61v1.7M238.3 11.13h-1.7M320.01 80.61v1.7M238.3 8.87h-1.7M322.58 80.61v1.7M238.3 6.62h-1.7M347.95 80.61v1.7M348.4 81.06h-1.7M350.52 80.61v1.7M348.4 78.8h-1.7M353.09 80.61v1.7M348.4 76.55h-1.7M355.65 80.61v1.7M348.4 74.29h-1.7M360.79 80.61v1.7M348.4 69.78h-1.7M363.36 80.61v1.7M348.4 67.52h-1.7M365.92 80.61v1.7M348.4 65.27h-1.7M368.49 80.61v1.7M348.4 63.01h-1.7M373.63 80.61v1.7M348.4 58.5h-1.7M376.19 80.61v1.7M348.4 56.25h-1.7M378.76 80.61v1.7M348.4 53.99h-1.7M381.33 80.61v1.7M348.4 51.73h-1.7M386.46 80.61v1.7M348.4 47.22h-1.7M389.03 80.61v1.7M348.4 44.97h-1.7M391.6 80.61v1.7M348.4 42.71h-1.7M394.17 80.61v1.7M348.4 40.45h-1.7M399.3 80.61v1.7M348.4 35.94h-1.7M401.87 80.61v1.7M348.4 33.69h-1.7M404.44 80.61v1.7M348.4 31.43h-1.7M407.01 80.61v1.7M348.4 29.17h-1.7M412.14 80.61v1.7M348.4 24.66h-1.7M414.71 80.61v1.7M348.4 22.41h-1.7M417.28 80.61v1.7M348.4 20.15h-1.7M419.84 80.61v1.7M348.4 17.9h-1.7M424.98 80.61v1.7M348.4 13.38h-1.7M427.55 80.61v1.7M348.4 11.13h-1.7M430.11 80.61v1.7M348.4 8.87h-1.7M432.68 80.61v1.7M348.4 6.62h-1.7M458.05 80.61v1.7M458.5 81.06h-1.7M460.62 80.61v1.7M458.5 78.8h-1.7M463.19 80.61v1.7M458.5 76.55h-1.7M465.75 80.61v1.7M458.5 74.29h-1.7M470.89 80.61v1.7M458.5 69.78h-1.7M473.46 80.61v1.7M458.5 67.52h-1.7M476.02 80.61v1.7M458.5 65.27h-1.7M478.59 80.61v1.7M458.5 63.01h-1.7M483.73 80.61v1.7M458.5 58.5h-1.7M486.29 80.61v1.7M458.5 56.25h-1.7M488.86 80.61v1.7M458.5 53.99h-1.7M491.43 80.61v1.7M458.5 51.73h-1.7M496.56 80.61v1.7M458.5 47.22h-1.7M499.13 80.61v1.7M458.5 44.97h-1.7M501.7 80.61v1.7M458.5 42.71h-1.7M504.27 80.61v1.7M458.5 40.45h-1.7M509.4 80.61v1.7M458.5 35.94h-1.7M511.97 80.61v1.7M458.5 33.69h-1.7M514.54 80.61v1.7M458.5 31.43h-1.7M517.11 80.61v1.7M458.5 29.17h-1.7M522.24 80.61v1.7M458.5 24.66h-1.7M524.81 80.61v1.7M458.5 22.41h-1.7M527.38 80.61v1.7M458.5 20.15h-1.7M529.94 80.61v1.7M458.5 17.9h-1.7M535.08 80.61v1.7M458.5 13.38h-1.7M537.65 80.61v1.7M458.5 11.13h-1.7M540.21 80.61v1.7M458.5 8.87h-1.7M542.78 80.61v1.7M458.5 6.62h-1.7M17.65 177.55v1.7M18.1 178h-1.7M20.22 177.55v1.7M18.1 175.75h-1.7M22.79 177.55v1.7M18.1 173.5h-1.7M25.35 177.55v1.7M18.1 171.25h-1.7M30.49 177.55v1.7M18.1 166.74h-1.7M33.06 177.55v1.7M18.1 164.49h-1.7M35.62 177.55v1.7M18.1 162.24h-1.7M38.19 177.55v1.7M18.1 159.99h-1.7M43.33 177.55v1.7M18.1 155.49h-1.7M45.89 177.55v1.7M18.1 153.23h-1.7M48.46 177.55v1.7M18.1 150.98h-1.7M51.03 177.55v1.7M18.1 148.73h-1.7M56.16 177.55v1.7M18.1 144.23h-1.7M58.73 177.55v1.7M18.1 141.98h-1.7M61.3 177.55v1.7M18.1 139.72h-1.7M63.87 177.55v1.7M18.1 137.47h-1.7M69 177.55v1.7M18.1 132.97h-1.7M71.57 177.55v1.7M18.1 130.72h-1.7M74.14 177.55v1.7M18.1 128.47h-1.7M76.71 177.55v1.7M18.1 126.22h-1.7M81.84 177.55v1.7M18.1 121.71h-1.7M84.41 177.55v1.7M18.1 119.46h-1.7M86.98 177.55v1.7M18.1 117.21h-1.7M89.54 177.55v1.7M18.1 114.96h-1.7M94.68 177.55v1.7M18.1 110.46h-1.7M97.25 177.55v1.7M18.1 108.2h-1.7M99.81 177.55v1.7M18.1 105.95h-1.7M102.38 177.55v1.7M18.1 103.7h-1.7M127.75 177.55v1.7M128.2 178h-1.7M130.32 177.55v1.7M128.2 175.75h-1.7M132.89 177.55v1.7M128.2 173.5h-1.7M135.45 177.55v1.7M128.2 171.25h-1.7M140.59 177.55v1.7M128.2 166.74h-1.7M143.16 177.55v1.7M128.2 164.49h-1.7M145.72 177.55v1.7M128.2 162.24h-1.7M148.29 177.55v1.7M128.2 159.99h-1.7M153.43 177.55v1.7M128.2 155.49h-1.7M155.99 177.55v1.7M128.2 153.23h-1.7M158.56 177.55v1.7M128.2 150.98h-1.7M161.13 177.55v1.7M128.2 148.73h-1.7M166.26 177.55v1.7M128.2 144.23h-1.7M168.83 177.55v1.7M128.2 141.98h-1.7M171.4 177.55v1.7M128.2 139.72h-1.7M173.97 177.55v1.7M128.2 137.47h-1.7M179.1 177.55v1.7M128.2 132.97h-1.7M181.67 177.55v1.7M128.2 130.72h-1.7M184.24 177.55v1.7M128.2 128.47h-1.7M186.81 177.55v1.7M128.2 126.22h-1.7M191.94 177.55v1.7M128.2 121.71h-1.7M194.51 177.55v1.7M128.2 119.46h-1.7M197.08 177.55v1.7M128.2 117.21h-1.7M199.64 177.55v1.7M128.2 114.96h-1.7M204.78 177.55v1.7M128.2 110.46h-1.7M207.35 177.55v1.7M128.2 108.2h-1.7M209.91 177.55v1.7M128.2 105.95h-1.7M212.48 177.55v1.7M128.2 103.7h-1.7M237.85 177.55v1.7M238.3 178h-1.7M240.42 177.55v1.7M238.3 175.75h-1.7M242.99 177.55v1.7M238.3 173.5h-1.7M245.55 177.55v1.7M238.3 171.25h-1.7M250.69 177.55v1.7M238.3 166.74h-1.7M253.26 177.55v1.7M238.3 164.49h-1.7M255.82 177.55v1.7M238.3 162.24h-1.7M258.39 177.55v1.7M238.3 159.99h-1.7M263.53 177.55v1.7M238.3 155.49h-1.7M266.09 177.55v1.7M238.3 153.23h-1.7M268.66 177.55v1.7M238.3 150.98h-1.7M271.23 177.55v1.7M238.3 148.73h-1.7M276.36 177.55v1.7M238.3 144.23h-1.7M278.93 177.55v1.7M238.3 141.98h-1.7M281.5 177.55v1.7M238.3 139.72h-1.7M284.07 177.55v1.7M238.3 137.47h-1.7M289.2 177.55v1.7M238.3 132.97h-1.7M291.77 177.55v1.7M238.3 130.72h-1.7M294.34 177.55v1.7M238.3 128.47h-1.7M296.91 177.55v1.7M238.3 126.22h-1.7M302.04 177.55v1.7M238.3 121.71h-1.7M304.61 177.55v1.7M238.3 119.46h-1.7M307.18 177.55v1.7M238.3 117.21h-1.7M309.74 177.55v1.7M238.3 114.96h-1.7M314.88 177.55v1.7M238.3 110.46h-1.7M317.45 177.55v1.7M238.3 108.2h-1.7M320.01 177.55v1.7M238.3 105.95h-1.7M322.58 177.55v1.7M238.3 103.7h-1.7M347.95 177.55v1.7M348.4 178h-1.7M350.52 177.55v1.7M348.4 175.75h-1.7M353.09 177.55v1.7M348.4 173.5h-1.7M355.65 177.55v1.7M348.4 171.25h-1.7M360.79 177.55v1.7M348.4 166.74h-1.7M363.36 177.55v1.7M348.4 164.49h-1.7M365.92 177.55v1.7M348.4 162.24h-1.7M368.49 177.55v1.7M348.4 159.99h-1.7M373.63 177.55v1.7M348.4 155.49h-1.7M376.19 177.55v1.7M348.4 153.23h-1.7M378.76 177.55v1.7M348.4 150.98h-1.7M381.33 177.55v1.7M348.4 148.73h-1.7M386.46 177.55v1.7M348.4 144.23h-1.7M389.03 177.55v1.7M348.4 141.98h-1.7M391.6 177.55v1.7M348.4 139.72h-1.7M394.17 177.55v1.7M348.4 137.47h-1.7M399.3 177.55v1.7M348.4 132.97h-1.7M401.87 177.55v1.7M348.4 130.72h-1.7M404.44 177.55v1.7M348.4 128.47h-1.7M407.01 177.55v1.7M348.4 126.22h-1.7M412.14 177.55v1.7M348.4 121.71h-1.7M414.71 177.55v1.7M348.4 119.46h-1.7M417.28 177.55v1.7M348.4 117.21h-1.7M419.84 177.55v1.7M348.4 114.96h-1.7M424.98 177.55v1.7M348.4 110.46h-1.7M427.55 177.55v1.7M348.4 108.2h-1.7M430.11 177.55v1.7M348.4 105.95h-1.7M432.68 177.55v1.7M348.4 103.7h-1.7M458.05 177.55v1.7M458.5 178h-1.7M460.62 177.55v1.7M458.5 175.75h-1.7M463.19 177.55v1.7M458.5 173.5h-1.7M465.75 177.55v1.7M458.5 171.25h-1.7M470.89 177.55v1.7M458.5 166.74h-1.7M473.46 177.55v1.7M458.5 164.49h-1.7M476.02 177.55v1.7M458.5 162.24h-1.7M478.59 177.55v1.7M458.5 159.99h-1.7M483.73 177.55v1.7M458.5 155.49h-1.7M486.29 177.55v1.7M458.5 153.23h-1.7M488.86 177.55v1.7M458.5 150.98h-1.7M491.43 177.55v1.7M458.5 148.73h-1.7M496.56 177.55v1.7M458.5 144.23h-1.7M499.13 177.55v1.7M458.5 141.98h-1.7M501.7 177.55v1.7M458.5 139.72h-1.7M504.27 177.55v1.7M458.5 137.47h-1.7M509.4 177.55v1.7M458.5 132.97h-1.7M511.97 177.55v1.7M458.5 130.72h-1.7M514.54 177.55v1.7M458.5 128.47h-1.7M517.11 177.55v1.7M458.5 126.22h-1.7M522.24 177.55v1.7M458.5 121.71h-1.7M524.81 177.55v1.7M458.5 119.46h-1.7M527.38 177.55v1.7M458.5 117.21h-1.7M529.94 177.55v1.7M458.5 114.96h-1.7M535.08 177.55v1.7M458.5 110.46h-1.7M537.65 177.55v1.7M458.5 108.2h-1.7M540.21 177.55v1.7M458.5 105.95h-1.7M542.78 177.55v1.7M458.5 103.7h-1.7M17.65 274.55v1.7M18.1 275h-1.7M20.22 274.55v1.7M18.1 272.73h-1.7M22.79 274.55v1.7M18.1 270.46h-1.7M25.35 274.55v1.7M18.1 268.2h-1.7M30.49 274.55v1.7M18.1 263.66h-1.7M33.06 274.55v1.7M18.1 261.39h-1.7M35.62 274.55v1.7M18.1 259.13h-1.7M38.19 274.55v1.7M18.1 256.86h-1.7M43.33 274.55v1.7M18.1 252.32h-1.7M45.89 274.55v1.7M18.1 250.06h-1.7M48.46 274.55v1.7M18.1 247.79h-1.7M51.03 274.55v1.7M18.1 245.52h-1.7M56.16 274.55v1.7M18.1 240.99h-1.7M58.73 274.55v1.7M18.1 238.72h-1.7M61.3 274.55v1.7M18.1 236.45h-1.7M63.87 274.55v1.7M18.1 234.18h-1.7M69 274.55v1.7M18.1 229.65h-1.7M71.57 274.55v1.7M18.1 227.38h-1.7M74.14 274.55v1.7M18.1 225.11h-1.7M76.71 274.55v1.7M18.1 222.84h-1.7M81.84 274.55v1.7M18.1 218.31h-1.7M84.41 274.55v1.7M18.1 216.04h-1.7M86.98 274.55v1.7M18.1 213.77h-1.7M89.54 274.55v1.7M18.1 211.51h-1.7M94.68 274.55v1.7M18.1 206.97h-1.7M97.25 274.55v1.7M18.1 204.7h-1.7M99.81 274.55v1.7M18.1 202.44h-1.7M102.38 274.55v1.7M18.1 200.17h-1.7M127.75 274.55v1.7M128.2 275h-1.7M130.32 274.55v1.7M128.2 272.73h-1.7M132.89 274.55v1.7M128.2 270.46h-1.7M135.45 274.55v1.7M128.2 268.2h-1.7M140.59 274.55v1.7M128.2 263.66h-1.7M143.16 274.55v1.7M128.2 261.39h-1.7M145.72 274.55v1.7M128.2 259.13h-1.7M148.29 274.55v1.7M128.2 256.86h-1.7M153.43 274.55v1.7M128.2 252.32h-1.7M155.99 274.55v1.7M128.2 250.06h-1.7M158.56 274.55v1.7M128.2 247.79h-1.7M161.13 274.55v1.7M128.2 245.52h-1.7M166.26 274.55v1.7M128.2 240.99h-1.7M168.83 274.55v1.7M128.2 238.72h-1.7M171.4 274.55v1.7M128.2 236.45h-1.7M173.97 274.55v1.7M128.2 234.18h-1.7M179.1 274.55v1.7M128.2 229.65h-1.7M181.67 274.55v1.7M128.2 227.38h-1.7M184.24 274.55v1.7M128.2 225.11h-1.7M186.81 274.55v1.7M128.2 222.84h-1.7M191.94 274.55v1.7M128.2 218.31h-1.7M194.51 274.55v1.7M128.2 216.04h-1.7M197.08 274.55v1.7M128.2 213.77h-1.7M199.64 274.55v1.7M128.2 211.51h-1.7M204.78 274.55v1.7M128.2 206.97h-1.7M207.35 274.55v1.7M128.2 204.7h-1.7M209.91 274.55v1.7M128.2 202.44h-1.7M212.48 274.55v1.7M128.2 200.17h-1.7M237.85 274.55v1.7M238.3 275h-1.7M240.42 274.55v1.7M238.3 272.73h-1.7M242.99 274.55v1.7M238.3 270.46h-1.7M245.55 274.55v1.7M238.3 268.2h-1.7M250.69 274.55v1.7M238.3 263.66h-1.7M253.26 274.55v1.7M238.3 261.39h-1.7M255.82 274.55v1.7M238.3 259.13h-1.7M258.39 274.55v1.7M238.3 256.86h-1.7M263.53 274.55v1.7M238.3 252.32h-1.7M266.09 274.55v1.7M238.3 250.06h-1.7M268.66 274.55v1.7M238.3 247.79h-1.7M271.23 274.55v1.7M238.3 245.52h-1.7M276.36 274.55v1.7M238.3 240.99h-1.7M278.93 274.55v1.7M238.3 238.72h-1.7M281.5 274.55v1.7M238.3 236.45h-1.7M284.07 274.55v1.7M238.3 234.18h-1.7M289.2 274.55v1.7M238.3 229.65h-1.7M291.77 274.55v1.7M238.3 227.38h-1.7M294.34 274.55v1.7M238.3 225.11h-1.7M296.91 274.55v1.7M238.3 222.84h-1.7M302.04 274.55v1.7M238.3 218.31h-1.7M304.61 274.55v1.7M238.3 216.04h-1.7M307.18 274.55v1.7M238.3 213.77h-1.7M309.74 274.55v1.7M238.3 211.51h-1.7M314.88 274.55v1.7M238.3 206.97h-1.7M317.45 274.55v1.7M238.3 204.7h-1.7M320.01 274.55v1.7M238.3 202.44h-1.7M322.58 274.55v1.7M238.3 200.17h-1.7M347.95 274.55v1.7M348.4 275h-1.7M350.52 274.55v1.7M348.4 272.73h-1.7M353.09 274.55v1.7M348.4 270.46h-1.7M355.65 274.55v1.7M348.4 268.2h-1.7M360.79 274.55v1.7M348.4 263.66h-1.7M363.36 274.55v1.7M348.4 261.39h-1.7M365.92 274.55v1.7M348.4 259.13h-1.7M368.49 274.55v1.7M348.4 256.86h-1.7M373.63 274.55v1.7M348.4 252.32h-1.7M376.19 274.55v1.7M348.4 250.06h-1.7M378.76 274.55v1.7M348.4 247.79h-1.7M381.33 274.55v1.7M348.4 245.52h-1.7M386.46 274.55v1.7M348.4 240.99h-1.7M389.03 274.55v1.7M348.4 238.72h-1.7M391.6 274.55v1.7M348.4 236.45h-1.7M394.17 274.55v1.7M348.4 234.18h-1.7M399.3 274.55v1.7M348.4 229.65h-1.7M401.87 274.55v1.7M348.4 227.38h-1.7M404.44 274.55v1.7M348.4 225.11h-1.7M407.01 274.55v1.7M348.4 222.84h-1.7M412.14 274.55v1.7M348.4 218.31h-1.7M414.71 274.55v1.7M348.4 216.04h-1.7M417.28 274.55v1.7M348.4 213.77h-1.7M419.84 274.55v1.7M348.4 211.51h-1.7M424.98 274.55v1.7M348.4 206.97h-1.7M427.55 274.55v1.7M348.4 204.7h-1.7M430.11 274.55v1.7M348.4 202.44h-1.7M432.68 274.55v1.7M348.4 200.17h-1.7M458.05 274.55v1.7M458.5 275h-1.7M460.62 274.55v1.7M458.5 272.73h-1.7M463.19 274.55v1.7M458.5 270.46h-1.7M465.75 274.55v1.7M458.5 268.2h-1.7M470.89 274.55v1.7M458.5 263.66h-1.7M473.46 274.55v1.7M458.5 261.39h-1.7M476.02 274.55v1.7M458.5 259.13h-1.7M478.59 274.55v1.7M458.5 256.86h-1.7M483.73 274.55v1.7M458.5 252.32h-1.7M486.29 274.55v1.7M458.5 250.06h-1.7M488.86 274.55v1.7M458.5 247.79h-1.7M491.43 274.55v1.7M458.5 245.52h-1.7M496.56 274.55v1.7M458.5 240.99h-1.7M499.13 274.55v1.7M458.5 238.72h-1.7M501.7 274.55v1.7M458.5 236.45h-1.7M504.27 274.55v1.7M458.5 234.18h-1.7M509.4 274.55v1.7M458.5 229.65h-1.7M511.97 274.55v1.7M458.5 227.38h-1.7M514.54 274.55v1.7M458.5 225.11h-1.7M517.11 274.55v1.7M458.5 222.84h-1.7M522.24 274.55v1.7M458.5 218.31h-1.7M524.81 274.55v1.7M458.5 216.04h-1.7M527.38 274.55v1.7M458.5 213.77h-1.7M529.94 274.55v1.7M458.5 211.51h-1.7M535.08 274.55v1.7M458.5 206.97h-1.7M537.65 274.55v1.7M458.5 204.7h-1.7M540.21 274.55v1.7M458.5 202.44h-1.7M542.78 274.55v1.7M458.5 200.17h-1.7" stroke="#333" stroke-width="0.65" fill="none"/>
<path d="M27.92 80.61v2.35M18.1 72.04h-2.35M40.76 80.61v2.35M18.1 60.76h-2.35M53.6 80.61v2.35M18.1 49.48h-2.35M66.44 80.61v2.35M18.1 38.2h-2.35M79.27 80.61v2.35M18.1 26.92h-2.35M92.11 80.61v2.35M18.1 15.64h-2.35M104.95 80.61v2.35M18.1 4.36h-2.35M138.02 80.61v2.35M128.2 72.04h-2.35M150.86 80.61v2.35M128.2 60.76h-2.35M163.7 80.61v2.35M128.2 49.48h-2.35M176.54 80.61v2.35M128.2 38.2h-2.35M189.37 80.61v2.35M128.2 26.92h-2.35M202.21 80.61v2.35M128.2 15.64h-2.35M215.05 80.61v2.35M128.2 4.36h-2.35M248.12 80.61v2.35M238.3 72.04h-2.35M260.96 80.61v2.35M238.3 60.76h-2.35M273.8 80.61v2.35M238.3 49.48h-2.35M286.64 80.61v2.35M238.3 38.2h-2.35M299.47 80.61v2.35M238.3 26.92h-2.35M312.31 80.61v2.35M238.3 15.64h-2.35M325.15 80.61v2.35M238.3 4.36h-2.35M358.22 80.61v2.35M348.4 72.04h-2.35M371.06 80.61v2.35M348.4 60.76h-2.35M383.9 80.61v2.35M348.4 49.48h-2.35M396.74 80.61v2.35M348.4 38.2h-2.35M409.57 80.61v2.35M348.4 26.92h-2.35M422.41 80.61v2.35M348.4 15.64h-2.35M435.25 80.61v2.35M348.4 4.36h-2.35M468.32 80.61v2.35M458.5 72.04h-2.35M481.16 80.61v2.35M458.5 60.76h-2.35M494 80.61v2.35M458.5 49.48h-2.35M506.84 80.61v2.35M458.5 38.2h-2.35M519.67 80.61v2.35M458.5 26.92h-2.35M532.51 80.61v2.35M458.5 15.64h-2.35M545.35 80.61v2.35M458.5 4.36h-2.35M27.92 177.55v2.35M18.1 168.99h-2.35M40.76 177.55v2.35M18.1 157.74h-2.35M53.6 177.55v2.35M18.1 146.48h-2.35M66.44 177.55v2.35M18.1 135.22h-2.35M79.27 177.55v2.35M18.1 123.96h-2.35M92.11 177.55v2.35M18.1 112.71h-2.35M104.95 177.55v2.35M18.1 101.45h-2.35M138.02 177.55v2.35M128.2 168.99h-2.35M150.86 177.55v2.35M128.2 157.74h-2.35M163.7 177.55v2.35M128.2 146.48h-2.35M176.54 177.55v2.35M128.2 135.22h-2.35M189.37 177.55v2.35M128.2 123.96h-2.35M202.21 177.55v2.35M128.2 112.71h-2.35M215.05 177.55v2.35M128.2 101.45h-2.35M248.12 177.55v2.35M238.3 168.99h-2.35M260.96 177.55v2.35M238.3 157.74h-2.35M273.8 177.55v2.35M238.3 146.48h-2.35M286.64 177.55v2.35M238.3 135.22h-2.35M299.47 177.55v2.35M238.3 123.96h-2.35M312.31 177.55v2.35M238.3 112.71h-2.35M325.15 177.55v2.35M238.3 101.45h-2.35M358.22 177.55v2.35M348.4 168.99h-2.35M371.06 177.55v2.35M348.4 157.74h-2.35M383.9 177.55v2.35M348.4 146.48h-2.35M396.74 177.55v2.35M348.4 135.22h-2.35M409.57 177.55v2.35M348.4 123.96h-2.35M422.41 177.55v2.35M348.4 112.71h-2.35M435.25 177.55v2.35M348.4 101.45h-2.35M468.32 177.55v2.35M458.5 168.99h-2.35M481.16 177.55v2.35M458.5 157.74h-2.35M494 177.55v2.35M458.5 146.48h-2.35M506.84 177.55v2.35M458.5 135.22h-2.35M519.67 177.55v2.35M458.5 123.96h-2.35M532.51 177.55v2.35M458.5 112.71h-2.35M545.35 177.55v2.35M458.5 101.45h-2.35M27.92 274.55v2.35M18.1 265.93h-2.35M40.76 274.55v2.35M18.1 254.59h-2.35M53.6 274.55v2.35M18.1 243.25h-2.35M66.44 274.55v2.35M18.1 231.91h-2.35M79.27 274.55v2.35M18.1 220.58h-2.35M92.11 274.55v2.35M18.1 209.24h-2.35M104.95 274.55v2.35M18.1 197.9h-2.35M138.02 274.55v2.35M128.2 265.93h-2.35M150.86 274.55v2.35M128.2 254.59h-2.35M163.7 274.55v2.35M128.2 243.25h-2.35M176.54 274.55v2.35M128.2 231.91h-2.35M189.37 274.55v2.35M128.2 220.58h-2.35M202.21 274.55v2.35M128.2 209.24h-2.35M215.05 274.55v2.35M128.2 197.9h-2.35M248.12 274.55v2.35M238.3 265.93h-2.35M260.96 274.55v2.35M238.3 254.59h-2.35M273.8 274.55v2.35M238.3 243.25h-2.35M286.64 274.55v2.35M238.3 231.91h-2.35M299.47 274.55v2.35M238.3 220.58h-2.35M312.31 274.55v2.35M238.3 209.24h-2.35M325.15 274.55v2.35M238.3 197.9h-2.35M358.22 274.55v2.35M348.4 265.93h-2.35M371.06 274.55v2.35M348.4 254.59h-2.35M383.9 274.55v2.35M348.4 243.25h-2.35M396.74 274.55v2.35M348.4 231.91h-2.35M409.57 274.55v2.35M348.4 220.58h-2.35M422.41 274.55v2.35M348.4 209.24h-2.35M435.25 274.55v2.35M348.4 197.9h-2.35M468.32 274.55v2.35M458.5 265.93h-2.35M481.16 274.55v2.35M458.5 254.59h-2.35M494 274.55v2.35M458.5 243.25h-2.35M506.84 274.55v2.35M458.5 231.91h-2.35M519.67 274.55v2.35M458.5 220.58h-2.35M532.51 274.55v2.35M458.5 209.24h-2.35M545.35 274.55v2.35M458.5 197.9h-2.35" stroke="#1a1a1a" stroke-width="0.75" fill="none"/>
<rect x="19.75" y="6.06" width="21.16" height="7.5" rx="0.7" fill="#fff" fill-opacity="0.85" stroke="#c4c4c4" stroke-width="0.5"/><rect x="129.85" y="6.06" width="30.16" height="7.5" rx="0.7" fill="#fff" fill-opacity="0.85" stroke="#c4c4c4" stroke-width="0.5"/><rect x="239.95" y="6.06" width="30.16" height="7.5" rx="0.7" fill="#fff" fill-opacity="0.85" stroke="#c4c4c4" stroke-width="0.5"/><rect x="350.05" y="6.06" width="30.16" height="7.5" rx="0.7" fill="#fff" fill-opacity="0.85" stroke="#c4c4c4" stroke-width="0.5"/><rect x="460.15" y="6.06" width="23.47" height="7.5" rx="0.7" fill="#fff" fill-opacity="0.85" stroke="#c4c4c4" stroke-width="0.5"/><rect x="19.75" y="103.15" width="30.16" height="7.5" rx="0.7" fill="#fff" fill-opacity="0.85" stroke="#c4c4c4" stroke-width="0.5"/><rect x="129.85" y="103.15" width="30.16" height="7.5" rx="0.7" fill="#fff" fill-opacity="0.85" stroke="#c4c4c4" stroke-width="0.5"/><rect x="239.95" y="103.15" width="21.16" height="7.5" rx="0.7" fill="#fff" fill-opacity="0.85" stroke="#c4c4c4" stroke-width="0.5"/><rect x="350.05" y="103.15" width="30.16" height="7.5" rx="0.7" fill="#fff" fill-opacity="0.85" stroke="#c4c4c4" stroke-width="0.5"/><rect x="460.15" y="103.15" width="23.93" height="7.5" rx="0.7" fill="#fff" fill-opacity="0.85" stroke="#c4c4c4" stroke-width="0.5"/><rect x="19.75" y="199.6" width="30.16" height="7.5" rx="0.7" fill="#fff" fill-opacity="0.85" stroke="#c4c4c4" stroke-width="0.5"/><rect x="129.85" y="199.6" width="29.85" height="7.5" rx="0.7" fill="#fff" fill-opacity="0.85" stroke="#c4c4c4" stroke-width="0.5"/><rect x="239.95" y="199.6" width="30.16" height="7.5" rx="0.7" fill="#fff" fill-opacity="0.85" stroke="#c4c4c4" stroke-width="0.5"/><rect x="350.05" y="199.6" width="30.16" height="7.5" rx="0.7" fill="#fff" fill-opacity="0.85" stroke="#c4c4c4" stroke-width="0.5"/><rect x="460.15" y="199.6" width="30.16" height="7.5" rx="0.7" fill="#fff" fill-opacity="0.85" stroke="#c4c4c4" stroke-width="0.5"/>
<path d="M24.45 9.46h2.4M25.65 8.26v2.4M134.55 9.46h2.4M135.75 8.26v2.4M244.65 9.46h2.4M245.85 8.26v2.4M354.75 9.46h2.4M355.95 8.26v2.4M464.85 9.46h2.4M466.05 8.26v2.4M24.45 106.55h2.4M25.65 105.35v2.4M134.55 106.55h2.4M135.75 105.35v2.4M244.65 106.55h2.4M245.85 105.35v2.4M354.75 106.55h2.4M355.95 105.35v2.4M464.85 106.55h2.4M466.05 105.35v2.4M24.45 203h2.4M25.65 201.8v2.4M134.55 203h2.4M135.75 201.8v2.4M244.65 203h2.4M245.85 201.8v2.4M354.75 203h2.4M355.95 201.8v2.4M464.85 203h2.4M466.05 201.8v2.4" stroke="#b0b0b8" stroke-width="0.6" fill="none"/>
</g>
<g font-size="4.6" fill="#2e2e2e" color="#2e2e2e" filter="url(#blt)">
<text transform="translate(27.92,88.01) scale(0.84,1)" text-anchor="middle">0</text>
<text transform="translate(13.35,73.44) scale(0.84,1)" text-anchor="end">0</text>
<text transform="translate(40.76,88.01) scale(0.84,1)" text-anchor="middle">5</text>
<text transform="translate(13.35,62.16) scale(0.84,1)" text-anchor="end">5</text>
<text transform="translate(53.6,88.01) scale(0.84,1)" text-anchor="middle">10</text>
<text transform="translate(13.35,50.88) scale(0.84,1)" text-anchor="end">10</text>
<text transform="translate(66.44,88.01) scale(0.84,1)" text-anchor="middle">15</text>
<text transform="translate(13.35,39.6) scale(0.84,1)" text-anchor="end">15</text>
<text transform="translate(79.27,88.01) scale(0.84,1)" text-anchor="middle">20</text>
<text transform="translate(13.35,28.32) scale(0.84,1)" text-anchor="end">20</text>
<text transform="translate(92.11,88.01) scale(0.84,1)" text-anchor="middle">25</text>
<text transform="translate(13.35,17.04) scale(0.84,1)" text-anchor="end">25</text>
<text transform="translate(104.95,88.01) scale(0.84,1)" text-anchor="middle">30</text>
<text transform="translate(13.35,5.76) scale(0.84,1)" text-anchor="end">30</text>
<text x="61.3" y="93.81" font-size="4.55" text-anchor="middle" fill="#262626" color="#262626" style="stroke-width:0.1px">Model WSE (m.)</text>
<text transform="translate(6.35,42.71) rotate(-90)" font-size="4.55" text-anchor="middle" fill="#5a5a5a" style="stroke:none">In-situ WSE (m.)</text>
<text x="32.85" y="10.81" font-size="4.15" fill="#1a1a1a" color="#1a1a1a" style="stroke-width:0.1px">C.2</text>
<text transform="translate(138.02,88.01) scale(0.84,1)" text-anchor="middle">0</text>
<text transform="translate(123.45,73.44) scale(0.84,1)" text-anchor="end">0</text>
<text transform="translate(150.86,88.01) scale(0.84,1)" text-anchor="middle">5</text>
<text transform="translate(123.45,62.16) scale(0.84,1)" text-anchor="end">5</text>
<text transform="translate(163.7,88.01) scale(0.84,1)" text-anchor="middle">10</text>
<text transform="translate(123.45,50.88) scale(0.84,1)" text-anchor="end">10</text>
<text transform="translate(176.54,88.01) scale(0.84,1)" text-anchor="middle">15</text>
<text transform="translate(123.45,39.6) scale(0.84,1)" text-anchor="end">15</text>
<text transform="translate(189.37,88.01) scale(0.84,1)" text-anchor="middle">20</text>
<text transform="translate(123.45,28.32) scale(0.84,1)" text-anchor="end">20</text>
<text transform="translate(202.21,88.01) scale(0.84,1)" text-anchor="middle">25</text>
<text transform="translate(123.45,17.04) scale(0.84,1)" text-anchor="end">25</text>
<text transform="translate(215.05,88.01) scale(0.84,1)" text-anchor="middle">30</text>
<text transform="translate(123.45,5.76) scale(0.84,1)" text-anchor="end">30</text>
<text x="171.4" y="93.81" font-size="4.55" text-anchor="middle" fill="#262626" color="#262626" style="stroke-width:0.1px">Model WSE (m.)</text>
<text transform="translate(116.45,42.71) rotate(-90)" font-size="4.55" text-anchor="middle" fill="#5a5a5a" style="stroke:none">In-situ WSE (m.)</text>
<text x="142.95" y="10.81" font-size="4.15" fill="#1a1a1a" color="#1a1a1a" style="stroke-width:0.1px">CPY001</text>
<text transform="translate(248.12,88.01) scale(0.84,1)" text-anchor="middle">0</text>
<text transform="translate(233.55,73.44) scale(0.84,1)" text-anchor="end">0</text>
<text transform="translate(260.96,88.01) scale(0.84,1)" text-anchor="middle">5</text>
<text transform="translate(233.55,62.16) scale(0.84,1)" text-anchor="end">5</text>
<text transform="translate(273.8,88.01) scale(0.84,1)" text-anchor="middle">10</text>
<text transform="translate(233.55,50.88) scale(0.84,1)" text-anchor="end">10</text>
<text transform="translate(286.64,88.01) scale(0.84,1)" text-anchor="middle">15</text>
<text transform="translate(233.55,39.6) scale(0.84,1)" text-anchor="end">15</text>
<text transform="translate(299.47,88.01) scale(0.84,1)" text-anchor="middle">20</text>
<text transform="translate(233.55,28.32) scale(0.84,1)" text-anchor="end">20</text>
<text transform="translate(312.31,88.01) scale(0.84,1)" text-anchor="middle">25</text>
<text transform="translate(233.55,17.04) scale(0.84,1)" text-anchor="end">25</text>
<text transform="translate(325.15,88.01) scale(0.84,1)" text-anchor="middle">30</text>
<text transform="translate(233.55,5.76) scale(0.84,1)" text-anchor="end">30</text>
<text x="281.5" y="93.81" font-size="4.55" text-anchor="middle" fill="#262626" color="#262626" style="stroke-width:0.1px">Model WSE (m.)</text>
<text transform="translate(226.55,42.71) rotate(-90)" font-size="4.55" text-anchor="middle" fill="#5a5a5a" style="stroke:none">In-situ WSE (m.)</text>
<text x="253.05" y="10.81" font-size="4.15" fill="#1a1a1a" color="#1a1a1a" style="stroke-width:0.1px">CPY002</text>
<text transform="translate(358.22,88.01) scale(0.84,1)" text-anchor="middle">0</text>
<text transform="translate(343.65,73.44) scale(0.84,1)" text-anchor="end">0</text>
<text transform="translate(371.06,88.01) scale(0.84,1)" text-anchor="middle">5</text>
<text transform="translate(343.65,62.16) scale(0.84,1)" text-anchor="end">5</text>
<text transform="translate(383.9,88.01) scale(0.84,1)" text-anchor="middle">10</text>
<text transform="translate(343.65,50.88) scale(0.84,1)" text-anchor="end">10</text>
<text transform="translate(396.74,88.01) scale(0.84,1)" text-anchor="middle">15</text>
<text transform="translate(343.65,39.6) scale(0.84,1)" text-anchor="end">15</text>
<text transform="translate(409.57,88.01) scale(0.84,1)" text-anchor="middle">20</text>
<text transform="translate(343.65,28.32) scale(0.84,1)" text-anchor="end">20</text>
<text transform="translate(422.41,88.01) scale(0.84,1)" text-anchor="middle">25</text>
<text transform="translate(343.65,17.04) scale(0.84,1)" text-anchor="end">25</text>
<text transform="translate(435.25,88.01) scale(0.84,1)" text-anchor="middle">30</text>
<text transform="translate(343.65,5.76) scale(0.84,1)" text-anchor="end">30</text>
<text x="391.6" y="93.81" font-size="4.55" text-anchor="middle" fill="#262626" color="#262626" style="stroke-width:0.1px">Model WSE (m.)</text>
<text transform="translate(336.65,42.71) rotate(-90)" font-size="4.55" text-anchor="middle" fill="#5a5a5a" style="stroke:none">In-situ WSE (m.)</text>
<text x="363.15" y="10.81" font-size="4.15" fill="#1a1a1a" color="#1a1a1a" style="stroke-width:0.1px">CPY004</text>
<text transform="translate(468.32,88.01) scale(0.84,1)" text-anchor="middle">0</text>
<text transform="translate(453.75,73.44) scale(0.84,1)" text-anchor="end">0</text>
<text transform="translate(481.16,88.01) scale(0.84,1)" text-anchor="middle">5</text>
<text transform="translate(453.75,62.16) scale(0.84,1)" text-anchor="end">5</text>
<text transform="translate(494,88.01) scale(0.84,1)" text-anchor="middle">10</text>
<text transform="translate(453.75,50.88) scale(0.84,1)" text-anchor="end">10</text>
<text transform="translate(506.84,88.01) scale(0.84,1)" text-anchor="middle">15</text>
<text transform="translate(453.75,39.6) scale(0.84,1)" text-anchor="end">15</text>
<text transform="translate(519.67,88.01) scale(0.84,1)" text-anchor="middle">20</text>
<text transform="translate(453.75,28.32) scale(0.84,1)" text-anchor="end">20</text>
<text transform="translate(532.51,88.01) scale(0.84,1)" text-anchor="middle">25</text>
<text transform="translate(453.75,17.04) scale(0.84,1)" text-anchor="end">25</text>
<text transform="translate(545.35,88.01) scale(0.84,1)" text-anchor="middle">30</text>
<text transform="translate(453.75,5.76) scale(0.84,1)" text-anchor="end">30</text>
<text x="501.7" y="93.81" font-size="4.55" text-anchor="middle" fill="#262626" color="#262626" style="stroke-width:0.1px">Model WSE (m.)</text>
<text transform="translate(446.75,42.71) rotate(-90)" font-size="4.55" text-anchor="middle" fill="#5a5a5a" style="stroke:none">In-situ WSE (m.)</text>
<text x="473.25" y="10.81" font-size="4.15" fill="#1a1a1a" color="#1a1a1a" style="stroke-width:0.1px">C.13</text>
<text transform="translate(27.92,184.95) scale(0.84,1)" text-anchor="middle">0</text>
<text transform="translate(13.35,170.39) scale(0.84,1)" text-anchor="end">0</text>
<text transform="translate(40.76,184.95) scale(0.84,1)" text-anchor="middle">5</text>
<text transform="translate(13.35,159.14) scale(0.84,1)" text-anchor="end">5</text>
<text transform="translate(53.6,184.95) scale(0.84,1)" text-anchor="middle">10</text>
<text transform="translate(13.35,147.88) scale(0.84,1)" text-anchor="end">10</text>
<text transform="translate(66.44,184.95) scale(0.84,1)" text-anchor="middle">15</text>
<text transform="translate(13.35,136.62) scale(0.84,1)" text-anchor="end">15</text>
<text transform="translate(79.27,184.95) scale(0.84,1)" text-anchor="middle">20</text>
<text transform="translate(13.35,125.36) scale(0.84,1)" text-anchor="end">20</text>
<text transform="translate(92.11,184.95) scale(0.84,1)" text-anchor="middle">25</text>
<text transform="translate(13.35,114.11) scale(0.84,1)" text-anchor="end">25</text>
<text transform="translate(104.95,184.95) scale(0.84,1)" text-anchor="middle">30</text>
<text transform="translate(13.35,102.85) scale(0.84,1)" text-anchor="end">30</text>
<text x="61.3" y="190.75" font-size="4.55" text-anchor="middle" fill="#262626" color="#262626" style="stroke-width:0.1px">Model WSE (m.)</text>
<text transform="translate(6.35,139.72) rotate(-90)" font-size="4.55" text-anchor="middle" fill="#5a5a5a" style="stroke:none">In-situ WSE (m.)</text>
<text x="32.85" y="107.9" font-size="4.15" fill="#1a1a1a" color="#1a1a1a" style="stroke-width:0.1px">CPY005</text>
<text transform="translate(138.02,184.95) scale(0.84,1)" text-anchor="middle">0</text>
<text transform="translate(123.45,170.39) scale(0.84,1)" text-anchor="end">0</text>
<text transform="translate(150.86,184.95) scale(0.84,1)" text-anchor="middle">5</text>
<text transform="translate(123.45,159.14) scale(0.84,1)" text-anchor="end">5</text>
<text transform="translate(163.7,184.95) scale(0.84,1)" text-anchor="middle">10</text>
<text transform="translate(123.45,147.88) scale(0.84,1)" text-anchor="end">10</text>
<text transform="translate(176.54,184.95) scale(0.84,1)" text-anchor="middle">15</text>
<text transform="translate(123.45,136.62) scale(0.84,1)" text-anchor="end">15</text>
<text transform="translate(189.37,184.95) scale(0.84,1)" text-anchor="middle">20</text>
<text transform="translate(123.45,125.36) scale(0.84,1)" text-anchor="end">20</text>
<text transform="translate(202.21,184.95) scale(0.84,1)" text-anchor="middle">25</text>
<text transform="translate(123.45,114.11) scale(0.84,1)" text-anchor="end">25</text>
<text transform="translate(215.05,184.95) scale(0.84,1)" text-anchor="middle">30</text>
<text transform="translate(123.45,102.85) scale(0.84,1)" text-anchor="end">30</text>
<text x="171.4" y="190.75" font-size="4.55" text-anchor="middle" fill="#262626" color="#262626" style="stroke-width:0.1px">Model WSE (m.)</text>
<text transform="translate(116.45,139.72) rotate(-90)" font-size="4.55" text-anchor="middle" fill="#5a5a5a" style="stroke:none">In-situ WSE (m.)</text>
<text x="142.95" y="107.9" font-size="4.15" fill="#1a1a1a" color="#1a1a1a" style="stroke-width:0.1px">CPY006</text>
<text transform="translate(248.12,184.95) scale(0.84,1)" text-anchor="middle">0</text>
<text transform="translate(233.55,170.39) scale(0.84,1)" text-anchor="end">0</text>
<text transform="translate(260.96,184.95) scale(0.84,1)" text-anchor="middle">5</text>
<text transform="translate(233.55,159.14) scale(0.84,1)" text-anchor="end">5</text>
<text transform="translate(273.8,184.95) scale(0.84,1)" text-anchor="middle">10</text>
<text transform="translate(233.55,147.88) scale(0.84,1)" text-anchor="end">10</text>
<text transform="translate(286.64,184.95) scale(0.84,1)" text-anchor="middle">15</text>
<text transform="translate(233.55,136.62) scale(0.84,1)" text-anchor="end">15</text>
<text transform="translate(299.47,184.95) scale(0.84,1)" text-anchor="middle">20</text>
<text transform="translate(233.55,125.36) scale(0.84,1)" text-anchor="end">20</text>
<text transform="translate(312.31,184.95) scale(0.84,1)" text-anchor="middle">25</text>
<text transform="translate(233.55,114.11) scale(0.84,1)" text-anchor="end">25</text>
<text transform="translate(325.15,184.95) scale(0.84,1)" text-anchor="middle">30</text>
<text transform="translate(233.55,102.85) scale(0.84,1)" text-anchor="end">30</text>
<text x="281.5" y="190.75" font-size="4.55" text-anchor="middle" fill="#262626" color="#262626" style="stroke-width:0.1px">Model WSE (m.)</text>
<text transform="translate(226.55,139.72) rotate(-90)" font-size="4.55" text-anchor="middle" fill="#5a5a5a" style="stroke:none">In-situ WSE (m.)</text>
<text x="253.05" y="107.9" font-size="4.15" fill="#1a1a1a" color="#1a1a1a" style="stroke-width:0.1px">C.3</text>
<text transform="translate(358.22,184.95) scale(0.84,1)" text-anchor="middle">0</text>
<text transform="translate(343.65,170.39) scale(0.84,1)" text-anchor="end">0</text>
<text transform="translate(371.06,184.95) scale(0.84,1)" text-anchor="middle">5</text>
<text transform="translate(343.65,159.14) scale(0.84,1)" text-anchor="end">5</text>
<text transform="translate(383.9,184.95) scale(0.84,1)" text-anchor="middle">10</text>
<text transform="translate(343.65,147.88) scale(0.84,1)" text-anchor="end">10</text>
<text transform="translate(396.74,184.95) scale(0.84,1)" text-anchor="middle">15</text>
<text transform="translate(343.65,136.62) scale(0.84,1)" text-anchor="end">15</text>
<text transform="translate(409.57,184.95) scale(0.84,1)" text-anchor="middle">20</text>
<text transform="translate(343.65,125.36) scale(0.84,1)" text-anchor="end">20</text>
<text transform="translate(422.41,184.95) scale(0.84,1)" text-anchor="middle">25</text>
<text transform="translate(343.65,114.11) scale(0.84,1)" text-anchor="end">25</text>
<text transform="translate(435.25,184.95) scale(0.84,1)" text-anchor="middle">30</text>
<text transform="translate(343.65,102.85) scale(0.84,1)" text-anchor="end">30</text>
<text x="391.6" y="190.75" font-size="4.55" text-anchor="middle" fill="#262626" color="#262626" style="stroke-width:0.1px">Model WSE (m.)</text>
<text transform="translate(336.65,139.72) rotate(-90)" font-size="4.55" text-anchor="middle" fill="#5a5a5a" style="stroke:none">In-situ WSE (m.)</text>
<text x="363.15" y="107.9" font-size="4.15" fill="#1a1a1a" color="#1a1a1a" style="stroke-width:0.1px">CPY007</text>
<text transform="translate(468.32,184.95) scale(0.84,1)" text-anchor="middle">0</text>
<text transform="translate(453.75,170.39) scale(0.84,1)" text-anchor="end">0</text>
<text transform="translate(481.16,184.95) scale(0.84,1)" text-anchor="middle">5</text>
<text transform="translate(453.75,159.14) scale(0.84,1)" text-anchor="end">5</text>
<text transform="translate(494,184.95) scale(0.84,1)" text-anchor="middle">10</text>
<text transform="translate(453.75,147.88) scale(0.84,1)" text-anchor="end">10</text>
<text transform="translate(506.84,184.95) scale(0.84,1)" text-anchor="middle">15</text>
<text transform="translate(453.75,136.62) scale(0.84,1)" text-anchor="end">15</text>
<text transform="translate(519.67,184.95) scale(0.84,1)" text-anchor="middle">20</text>
<text transform="translate(453.75,125.36) scale(0.84,1)" text-anchor="end">20</text>
<text transform="translate(532.51,184.95) scale(0.84,1)" text-anchor="middle">25</text>
<text transform="translate(453.75,114.11) scale(0.84,1)" text-anchor="end">25</text>
<text transform="translate(545.35,184.95) scale(0.84,1)" text-anchor="middle">30</text>
<text transform="translate(453.75,102.85) scale(0.84,1)" text-anchor="end">30</text>
<text x="501.7" y="190.75" font-size="4.55" text-anchor="middle" fill="#262626" color="#262626" style="stroke-width:0.1px">Model WSE (m.)</text>
<text transform="translate(446.75,139.72) rotate(-90)" font-size="4.55" text-anchor="middle" fill="#5a5a5a" style="stroke:none">In-situ WSE (m.)</text>
<text x="473.25" y="107.9" font-size="4.15" fill="#1a1a1a" color="#1a1a1a" style="stroke-width:0.1px">C.7A</text>
<text transform="translate(27.92,281.95) scale(0.84,1)" text-anchor="middle">0</text>
<text transform="translate(13.35,267.33) scale(0.84,1)" text-anchor="end">0</text>
<text transform="translate(40.76,281.95) scale(0.84,1)" text-anchor="middle">5</text>
<text transform="translate(13.35,255.99) scale(0.84,1)" text-anchor="end">5</text>
<text transform="translate(53.6,281.95) scale(0.84,1)" text-anchor="middle">10</text>
<text transform="translate(13.35,244.65) scale(0.84,1)" text-anchor="end">10</text>
<text transform="translate(66.44,281.95) scale(0.84,1)" text-anchor="middle">15</text>
<text transform="translate(13.35,233.31) scale(0.84,1)" text-anchor="end">15</text>
<text transform="translate(79.27,281.95) scale(0.84,1)" text-anchor="middle">20</text>
<text transform="translate(13.35,221.98) scale(0.84,1)" text-anchor="end">20</text>
<text transform="translate(92.11,281.95) scale(0.84,1)" text-anchor="middle">25</text>
<text transform="translate(13.35,210.64) scale(0.84,1)" text-anchor="end">25</text>
<text transform="translate(104.95,281.95) scale(0.84,1)" text-anchor="middle">30</text>
<text transform="translate(13.35,199.3) scale(0.84,1)" text-anchor="end">30</text>
<text x="61.3" y="287.75" font-size="4.55" text-anchor="middle" fill="#262626" color="#262626" style="stroke-width:0.1px">Model WSE (m.)</text>
<text transform="translate(6.35,236.45) rotate(-90)" font-size="4.55" text-anchor="middle" fill="#5a5a5a" style="stroke:none">In-situ WSE (m.)</text>
<text x="32.85" y="204.35" font-size="4.15" fill="#1a1a1a" color="#1a1a1a" style="stroke-width:0.1px">CPY008</text>
<text transform="translate(138.02,281.95) scale(0.84,1)" text-anchor="middle">0</text>
<text transform="translate(123.45,267.33) scale(0.84,1)" text-anchor="end">0</text>
<text transform="translate(150.86,281.95) scale(0.84,1)" text-anchor="middle">5</text>
<text transform="translate(123.45,255.99) scale(0.84,1)" text-anchor="end">5</text>
<text transform="translate(163.7,281.95) scale(0.84,1)" text-anchor="middle">10</text>
<text transform="translate(123.45,244.65) scale(0.84,1)" text-anchor="end">10</text>
<text transform="translate(176.54,281.95) scale(0.84,1)" text-anchor="middle">15</text>
<text transform="translate(123.45,233.31) scale(0.84,1)" text-anchor="end">15</text>
<text transform="translate(189.37,281.95) scale(0.84,1)" text-anchor="middle">20</text>
<text transform="translate(123.45,221.98) scale(0.84,1)" text-anchor="end">20</text>
<text transform="translate(202.21,281.95) scale(0.84,1)" text-anchor="middle">25</text>
<text transform="translate(123.45,210.64) scale(0.84,1)" text-anchor="end">25</text>
<text transform="translate(215.05,281.95) scale(0.84,1)" text-anchor="middle">30</text>
<text transform="translate(123.45,199.3) scale(0.84,1)" text-anchor="end">30</text>
<text x="171.4" y="287.75" font-size="4.55" text-anchor="middle" fill="#262626" color="#262626" style="stroke-width:0.1px">Model WSE (m.)</text>
<text transform="translate(116.45,236.45) rotate(-90)" font-size="4.55" text-anchor="middle" fill="#5a5a5a" style="stroke:none">In-situ WSE (m.)</text>
<text x="142.95" y="204.35" font-size="4.15" fill="#1a1a1a" color="#1a1a1a" style="stroke-width:0.1px">CPY011</text>
<text transform="translate(248.12,281.95) scale(0.84,1)" text-anchor="middle">0</text>
<text transform="translate(233.55,267.33) scale(0.84,1)" text-anchor="end">0</text>
<text transform="translate(260.96,281.95) scale(0.84,1)" text-anchor="middle">5</text>
<text transform="translate(233.55,255.99) scale(0.84,1)" text-anchor="end">5</text>
<text transform="translate(273.8,281.95) scale(0.84,1)" text-anchor="middle">10</text>
<text transform="translate(233.55,244.65) scale(0.84,1)" text-anchor="end">10</text>
<text transform="translate(286.64,281.95) scale(0.84,1)" text-anchor="middle">15</text>
<text transform="translate(233.55,233.31) scale(0.84,1)" text-anchor="end">15</text>
<text transform="translate(299.47,281.95) scale(0.84,1)" text-anchor="middle">20</text>
<text transform="translate(233.55,221.98) scale(0.84,1)" text-anchor="end">20</text>
<text transform="translate(312.31,281.95) scale(0.84,1)" text-anchor="middle">25</text>
<text transform="translate(233.55,210.64) scale(0.84,1)" text-anchor="end">25</text>
<text transform="translate(325.15,281.95) scale(0.84,1)" text-anchor="middle">30</text>
<text transform="translate(233.55,199.3) scale(0.84,1)" text-anchor="end">30</text>
<text x="281.5" y="287.75" font-size="4.55" text-anchor="middle" fill="#262626" color="#262626" style="stroke-width:0.1px">Model WSE (m.)</text>
<text transform="translate(226.55,236.45) rotate(-90)" font-size="4.55" text-anchor="middle" fill="#5a5a5a" style="stroke:none">In-situ WSE (m.)</text>
<text x="253.05" y="204.35" font-size="4.15" fill="#1a1a1a" color="#1a1a1a" style="stroke-width:0.1px">CPY013</text>
<text transform="translate(358.22,281.95) scale(0.84,1)" text-anchor="middle">0</text>
<text transform="translate(343.65,267.33) scale(0.84,1)" text-anchor="end">0</text>
<text transform="translate(371.06,281.95) scale(0.84,1)" text-anchor="middle">5</text>
<text transform="translate(343.65,255.99) scale(0.84,1)" text-anchor="end">5</text>
<text transform="translate(383.9,281.95) scale(0.84,1)" text-anchor="middle">10</text>
<text transform="translate(343.65,244.65) scale(0.84,1)" text-anchor="end">10</text>
<text transform="translate(396.74,281.95) scale(0.84,1)" text-anchor="middle">15</text>
<text transform="translate(343.65,233.31) scale(0.84,1)" text-anchor="end">15</text>
<text transform="translate(409.57,281.95) scale(0.84,1)" text-anchor="middle">20</text>
<text transform="translate(343.65,221.98) scale(0.84,1)" text-anchor="end">20</text>
<text transform="translate(422.41,281.95) scale(0.84,1)" text-anchor="middle">25</text>
<text transform="translate(343.65,210.64) scale(0.84,1)" text-anchor="end">25</text>
<text transform="translate(435.25,281.95) scale(0.84,1)" text-anchor="middle">30</text>
<text transform="translate(343.65,199.3) scale(0.84,1)" text-anchor="end">30</text>
<text x="391.6" y="287.75" font-size="4.55" text-anchor="middle" fill="#262626" color="#262626" style="stroke-width:0.1px">Model WSE (m.)</text>
<text transform="translate(336.65,236.45) rotate(-90)" font-size="4.55" text-anchor="middle" fill="#5a5a5a" style="stroke:none">In-situ WSE (m.)</text>
<text x="363.15" y="204.35" font-size="4.15" fill="#1a1a1a" color="#1a1a1a" style="stroke-width:0.1px">CPY014</text>
<text transform="translate(468.32,281.95) scale(0.84,1)" text-anchor="middle">0</text>
<text transform="translate(453.75,267.33) scale(0.84,1)" text-anchor="end">0</text>
<text transform="translate(481.16,281.95) scale(0.84,1)" text-anchor="middle">5</text>
<text transform="translate(453.75,255.99) scale(0.84,1)" text-anchor="end">5</text>
<text transform="translate(494,281.95) scale(0.84,1)" text-anchor="middle">10</text>
<text transform="translate(453.75,244.65) scale(0.84,1)" text-anchor="end">10</text>
<text transform="translate(506.84,281.95) scale(0.84,1)" text-anchor="middle">15</text>
<text transform="translate(453.75,233.31) scale(0.84,1)" text-anchor="end">15</text>
<text transform="translate(519.67,281.95) scale(0.84,1)" text-anchor="middle">20</text>
<text transform="translate(453.75,221.98) scale(0.84,1)" text-anchor="end">20</text>
<text transform="translate(532.51,281.95) scale(0.84,1)" text-anchor="middle">25</text>
<text transform="translate(453.75,210.64) scale(0.84,1)" text-anchor="end">25</text>
<text transform="translate(545.35,281.95) scale(0.84,1)" text-anchor="middle">30</text>
<text transform="translate(453.75,199.3) scale(0.84,1)" text-anchor="end">30</text>
<text x="501.7" y="287.75" font-size="4.55" text-anchor="middle" fill="#262626" color="#262626" style="stroke-width:0.1px">Model WSE (m.)</text>
<text transform="translate(446.75,236.45) rotate(-90)" font-size="4.55" text-anchor="middle" fill="#5a5a5a" style="stroke:none">In-situ WSE (m.)</text>
<text x="473.25" y="204.35" font-size="4.15" fill="#1a1a1a" color="#1a1a1a" style="stroke-width:0.1px">CPY015</text>
</g>
</svg></div></body></html>
